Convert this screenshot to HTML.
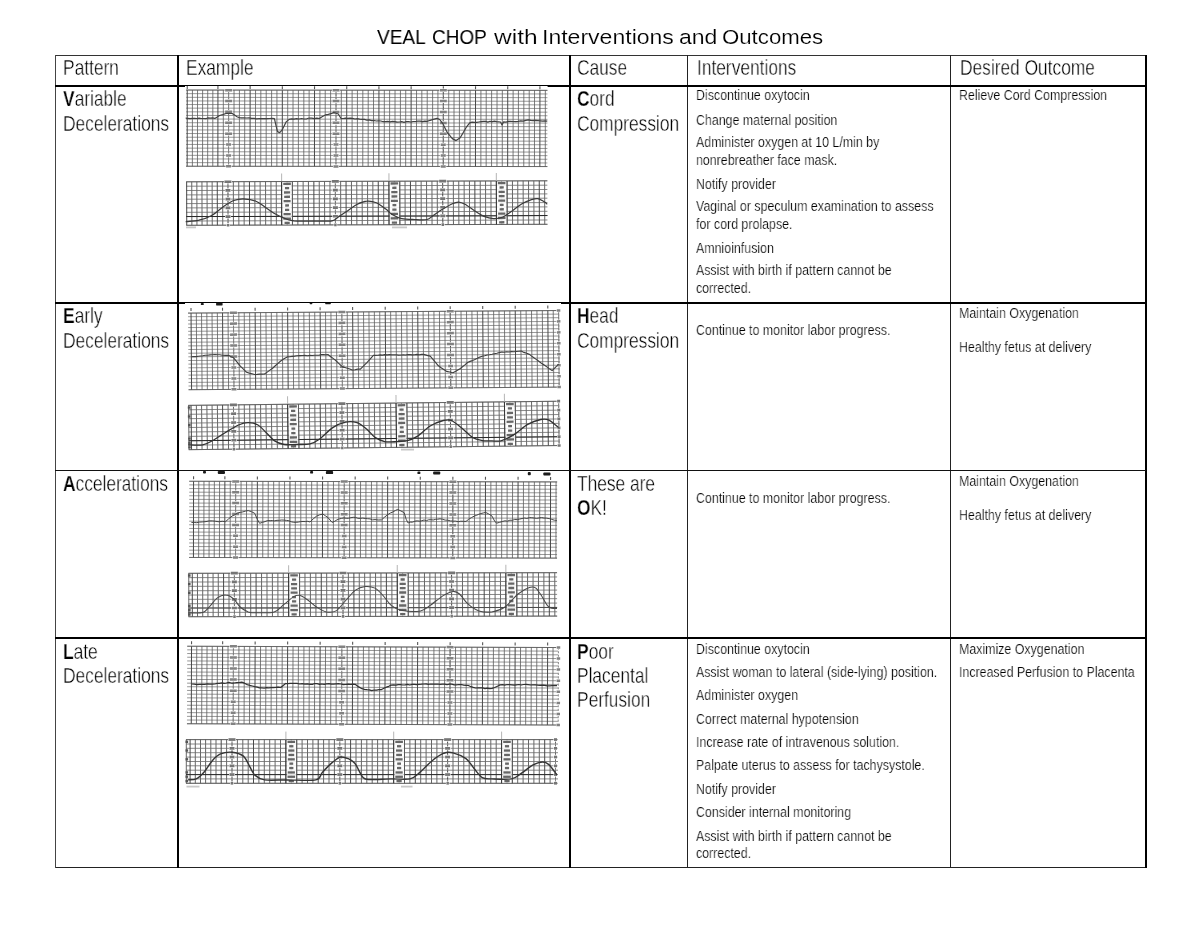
<!DOCTYPE html>
<html lang="en"><head><meta charset="utf-8"><title>VEAL CHOP with Interventions and Outcomes</title>
<style>
html,body{margin:0;padding:0;background:#fff;}
body{width:1200px;height:927px;position:relative;overflow:hidden;font-family:"Liberation Sans",sans-serif;color:#000;}
.ln{position:absolute;}
.t{position:absolute;white-space:nowrap;will-change:transform;transform:scaleX(0.8);transform-origin:0 0;}
.t.b{font-size:21.2px;line-height:21.2px;transform:scaleX(0.818);-webkit-text-stroke:0.4px #fff;}
.t.b b{-webkit-text-stroke:0.25px #fff;}
.t.s{font-size:15.5px;line-height:15.5px;-webkit-text-stroke:0.22px #fff;}
.t b{font-weight:bold;}
.title{position:absolute;left:0;top:27.7px;margin:0;font-weight:normal;font-size:19.7px;line-height:19.7px;white-space:nowrap;}
.title span{position:absolute;top:0;transform-origin:0 0;will-change:transform;}
svg.img{position:absolute;left:0;top:0;}
</style></head><body>
<div class="ln" style="left:54.5px;top:54.5px;width:1092px;height:1.5px;background:#333"></div>
<div class="ln" style="left:54.5px;top:866.8px;width:1092px;height:1.4px;background:#222"></div>
<div class="ln" style="left:54.5px;top:54.5px;width:1.5px;height:813.5px;background:#444"></div>
<div class="ln" style="left:1144.5px;top:55px;width:2px;height:813px;background:#000"></div>
<div class="ln" style="left:177px;top:55px;width:2px;height:813px;background:#000"></div>
<div class="ln" style="left:569px;top:55px;width:2px;height:813px;background:#000"></div>
<div class="ln" style="left:687.1px;top:55px;width:1.4px;height:813px;background:#222"></div>
<div class="ln" style="left:950.1px;top:55px;width:1.4px;height:813px;background:#222"></div>
<div class="ln" style="left:55px;top:85px;width:1091px;height:2px;background:#000"></div>
<div class="ln" style="left:55px;top:302px;width:1091px;height:2px;background:#000"></div>
<div class="ln" style="left:55px;top:469.8px;width:1091px;height:1.4px;background:#111"></div>
<div class="ln" style="left:55px;top:637px;width:1091px;height:2px;background:#000"></div>
<svg class="img" width="1200" height="927" viewBox="0 0 1200 927">
<defs><filter id="bl" x="-2%" y="-5%" width="104%" height="110%"><feGaussianBlur stdDeviation="0.6"/></filter><filter id="bl2" x="-2%" y="-5%" width="104%" height="110%"><feGaussianBlur stdDeviation="0.45"/></filter></defs>
<rect x="185" y="86" width="362.6" height="2.2" fill="#fff"/>
<g filter="url(#bl)">
<g transform="rotate(0.05 367.3 128.3)">
<path d="M192.4 90.2V166.4M197.5 90.2V166.4M202.6 90.2V166.4M207.7 90.2V166.4M212.8 90.2V166.4M223.3 90.2V166.4M228.6 90.2V166.4M234 90.2V166.4M239.4 90.2V166.4M244.7 90.2V166.4M255.5 90.2V166.4M260.8 90.2V166.4M266.2 90.2V166.4M271.6 90.2V166.4M276.9 90.2V166.4M287.7 90.2V166.4M293 90.2V166.4M298.4 90.2V166.4M303.8 90.2V166.4M309.1 90.2V166.4M319.9 90.2V166.4M325.2 90.2V166.4M330.6 90.2V166.4M336 90.2V166.4M341.3 90.2V166.4M352.1 90.2V166.4M357.4 90.2V166.4M362.8 90.2V166.4M368.2 90.2V166.4M373.5 90.2V166.4M384.3 90.2V166.4M389.6 90.2V166.4M395 90.2V166.4M400.4 90.2V166.4M405.7 90.2V166.4M416.5 90.2V166.4M421.8 90.2V166.4M427.2 90.2V166.4M432.6 90.2V166.4M437.9 90.2V166.4M448.7 90.2V166.4M454 90.2V166.4M459.4 90.2V166.4M464.8 90.2V166.4M470.1 90.2V166.4M480.9 90.2V166.4M486.2 90.2V166.4M491.6 90.2V166.4M497 90.2V166.4M502.3 90.2V166.4M513.1 90.2V166.4M518.4 90.2V166.4M523.8 90.2V166.4M529.2 90.2V166.4M534.5 90.2V166.4M545.3 90.2V166.4" stroke="#505050" stroke-width="0.75" fill="none"/>
<path d="M186.1 90.2H547.4M186.1 93.8H547.4M186.1 97.5H547.4M186.1 101.1H547.4M186.1 104.7H547.4M186.1 108.3H547.4M186.1 112H547.4M186.1 115.6H547.4M186.1 119.2H547.4M186.1 122.9H547.4M186.1 126.5H547.4M186.1 130.1H547.4M186.1 133.7H547.4M186.1 137.4H547.4M186.1 141H547.4M186.1 144.6H547.4M186.1 148.3H547.4M186.1 151.9H547.4M186.1 155.5H547.4M186.1 159.1H547.4M186.1 162.8H547.4M186.1 166.4H547.4" stroke="#606060" stroke-width="0.65" fill="none"/>
<path d="M187.2 90.2V166.4M217.9 90.2V166.4M250.1 90.2V166.4M282.3 90.2V166.4M314.5 90.2V166.4M346.7 90.2V166.4M378.9 90.2V166.4M411.1 90.2V166.4M443.3 90.2V166.4M475.5 90.2V166.4M507.7 90.2V166.4M539.9 90.2V166.4" stroke="#484848" stroke-width="1.0" fill="none"/>
<path d="M187.2 86.2V89.2M217.9 86.2V89.2M250.1 86.2V89.2M282.3 86.2V89.2M314.5 86.2V89.2M346.7 86.2V89.2M378.9 86.2V89.2M411.1 86.2V89.2M443.3 86.2V89.2M475.5 86.2V89.2M507.7 86.2V89.2M539.9 86.2V89.2" stroke="#555" stroke-width="1.1" fill="none"/>
<path d="M186.1 90.2H547.4M186.1 166.4H547.4" stroke="#555" stroke-width="0.7" fill="none"/>
<path d="M228.6 90.2V166.4" stroke="#888" stroke-width="1" stroke-dasharray="2.2 1.4" fill="none"/>
<rect x="224.6" y="88.4" width="8" height="3.6" fill="#fff"/>
<rect x="225.1" y="89" width="7" height="2.5" fill="#828282"/>
<rect x="224.6" y="99.3" width="8" height="3.6" fill="#fff"/>
<rect x="225.1" y="99.8" width="7" height="2.5" fill="#828282"/>
<rect x="224.6" y="110.2" width="8" height="3.6" fill="#fff"/>
<rect x="225.1" y="110.7" width="7" height="2.5" fill="#828282"/>
<rect x="224.6" y="121.1" width="8" height="3.6" fill="#fff"/>
<rect x="225.1" y="121.6" width="7" height="2.5" fill="#828282"/>
<rect x="224.6" y="131.9" width="8" height="3.6" fill="#fff"/>
<rect x="225.1" y="132.5" width="7" height="2.5" fill="#828282"/>
<rect x="225.6" y="142.8" width="6" height="3.6" fill="#fff"/>
<rect x="226.1" y="143.4" width="5" height="2.5" fill="#828282"/>
<rect x="225.6" y="153.7" width="6" height="3.6" fill="#fff"/>
<rect x="226.1" y="154.3" width="5" height="2.5" fill="#828282"/>
<rect x="225.6" y="164.6" width="6" height="3.6" fill="#fff"/>
<rect x="226.1" y="165.2" width="5" height="2.5" fill="#828282"/>
<path d="M336 90.2V166.4" stroke="#888" stroke-width="1" stroke-dasharray="2.2 1.4" fill="none"/>
<rect x="332" y="88.4" width="8" height="3.6" fill="#fff"/>
<rect x="332.5" y="89" width="7" height="2.5" fill="#828282"/>
<rect x="332" y="99.3" width="8" height="3.6" fill="#fff"/>
<rect x="332.5" y="99.8" width="7" height="2.5" fill="#828282"/>
<rect x="332" y="110.2" width="8" height="3.6" fill="#fff"/>
<rect x="332.5" y="110.7" width="7" height="2.5" fill="#828282"/>
<rect x="332" y="121.1" width="8" height="3.6" fill="#fff"/>
<rect x="332.5" y="121.6" width="7" height="2.5" fill="#828282"/>
<rect x="332" y="131.9" width="8" height="3.6" fill="#fff"/>
<rect x="332.5" y="132.5" width="7" height="2.5" fill="#828282"/>
<rect x="333" y="142.8" width="6" height="3.6" fill="#fff"/>
<rect x="333.5" y="143.4" width="5" height="2.5" fill="#828282"/>
<rect x="333" y="153.7" width="6" height="3.6" fill="#fff"/>
<rect x="333.5" y="154.3" width="5" height="2.5" fill="#828282"/>
<rect x="333" y="164.6" width="6" height="3.6" fill="#fff"/>
<rect x="333.5" y="165.2" width="5" height="2.5" fill="#828282"/>
<path d="M443.3 90.2V166.4" stroke="#888" stroke-width="1" stroke-dasharray="2.2 1.4" fill="none"/>
<rect x="439.3" y="88.4" width="8" height="3.6" fill="#fff"/>
<rect x="439.8" y="89" width="7" height="2.5" fill="#828282"/>
<rect x="439.3" y="99.3" width="8" height="3.6" fill="#fff"/>
<rect x="439.8" y="99.8" width="7" height="2.5" fill="#828282"/>
<rect x="439.3" y="110.2" width="8" height="3.6" fill="#fff"/>
<rect x="439.8" y="110.7" width="7" height="2.5" fill="#828282"/>
<rect x="439.3" y="121.1" width="8" height="3.6" fill="#fff"/>
<rect x="439.8" y="121.6" width="7" height="2.5" fill="#828282"/>
<rect x="439.3" y="131.9" width="8" height="3.6" fill="#fff"/>
<rect x="439.8" y="132.5" width="7" height="2.5" fill="#828282"/>
<rect x="440.3" y="142.8" width="6" height="3.6" fill="#fff"/>
<rect x="440.8" y="143.4" width="5" height="2.5" fill="#828282"/>
<rect x="440.3" y="153.7" width="6" height="3.6" fill="#fff"/>
<rect x="440.8" y="154.3" width="5" height="2.5" fill="#828282"/>
<rect x="440.3" y="164.6" width="6" height="3.6" fill="#fff"/>
<rect x="440.8" y="165.2" width="5" height="2.5" fill="#828282"/>
</g>
<g transform="rotate(-0.16 367.3 203.1)">
<path d="M191.8 181.3V224.8M196.9 181.3V224.8M202 181.3V224.8M207.1 181.3V224.8M212.2 181.3V224.8M222.7 181.3V224.8M228 181.3V224.8M233.4 181.3V224.8M238.8 181.3V224.8M244.1 181.3V224.8M254.9 181.3V224.8M260.2 181.3V224.8M265.6 181.3V224.8M271 181.3V224.8M276.3 181.3V224.8M287.1 181.3V224.8M292.4 181.3V224.8M297.8 181.3V224.8M303.2 181.3V224.8M308.5 181.3V224.8M319.3 181.3V224.8M324.6 181.3V224.8M330 181.3V224.8M335.4 181.3V224.8M340.7 181.3V224.8M351.5 181.3V224.8M356.8 181.3V224.8M362.2 181.3V224.8M367.6 181.3V224.8M372.9 181.3V224.8M383.7 181.3V224.8M389 181.3V224.8M394.4 181.3V224.8M399.8 181.3V224.8M405.1 181.3V224.8M415.9 181.3V224.8M421.2 181.3V224.8M426.6 181.3V224.8M432 181.3V224.8M437.3 181.3V224.8M448.1 181.3V224.8M453.4 181.3V224.8M458.8 181.3V224.8M464.2 181.3V224.8M469.5 181.3V224.8M480.3 181.3V224.8M485.6 181.3V224.8M491 181.3V224.8M496.4 181.3V224.8M501.7 181.3V224.8M512.5 181.3V224.8M517.8 181.3V224.8M523.2 181.3V224.8M528.6 181.3V224.8M533.9 181.3V224.8M544.7 181.3V224.8" stroke="#5e5e5e" stroke-width="0.95" fill="none"/>
<path d="M186.3 181.3H547.4M186.3 185.7H547.4M186.3 190H547.4M186.3 194.4H547.4M186.3 198.7H547.4M186.3 203.1H547.4M186.3 207.4H547.4M186.3 211.8H547.4M186.3 216.1H547.4M186.3 220.5H547.4M186.3 224.8H547.4" stroke="#6a6a6a" stroke-width="0.8" fill="none"/>
<path d="M186.7 181.3V224.8M217.3 181.3V224.8M249.5 181.3V224.8M281.7 181.3V224.8M313.9 181.3V224.8M346.1 181.3V224.8M378.3 181.3V224.8M410.5 181.3V224.8M442.7 181.3V224.8M474.9 181.3V224.8M507.1 181.3V224.8M539.3 181.3V224.8" stroke="#484848" stroke-width="1.0" fill="none"/>
<path d="M186.3 181.3H547.4M186.3 224.8H547.4" stroke="#555" stroke-width="0.7" fill="none"/>
<path d="M186.3 216.1H547.4" stroke="#2a2a2a" stroke-width="1.0" fill="none"/>
<path d="M228 181.3V224.8" stroke="#888" stroke-width="1" stroke-dasharray="2.2 1.4" fill="none"/>
<rect x="224" y="179.4" width="8" height="3.8" fill="#fff"/>
<rect x="224.5" y="180" width="7" height="2.7" fill="#767676"/>
<rect x="225" y="188.1" width="6" height="3.8" fill="#fff"/>
<rect x="225.5" y="188.7" width="5" height="2.7" fill="#767676"/>
<rect x="225" y="196.8" width="6" height="3.8" fill="#fff"/>
<rect x="225.5" y="197.4" width="5" height="2.7" fill="#767676"/>
<rect x="225" y="205.5" width="6" height="3.8" fill="#fff"/>
<rect x="225.5" y="206.1" width="5" height="2.7" fill="#767676"/>
<rect x="225" y="214.2" width="6" height="3.8" fill="#fff"/>
<rect x="225.5" y="214.8" width="5" height="2.7" fill="#767676"/>
<rect x="226.3" y="222.9" width="3.5" height="3.8" fill="#fff"/>
<rect x="226.8" y="223.5" width="2.5" height="2.7" fill="#767676"/>
<path d="M335.4 181.3V224.8" stroke="#888" stroke-width="1" stroke-dasharray="2.2 1.4" fill="none"/>
<rect x="331.4" y="179.4" width="8" height="3.8" fill="#fff"/>
<rect x="331.9" y="180" width="7" height="2.7" fill="#767676"/>
<rect x="332.4" y="188.1" width="6" height="3.8" fill="#fff"/>
<rect x="332.9" y="188.7" width="5" height="2.7" fill="#767676"/>
<rect x="332.4" y="196.8" width="6" height="3.8" fill="#fff"/>
<rect x="332.9" y="197.4" width="5" height="2.7" fill="#767676"/>
<rect x="332.4" y="205.5" width="6" height="3.8" fill="#fff"/>
<rect x="332.9" y="206.1" width="5" height="2.7" fill="#767676"/>
<rect x="332.4" y="214.2" width="6" height="3.8" fill="#fff"/>
<rect x="332.9" y="214.8" width="5" height="2.7" fill="#767676"/>
<rect x="333.6" y="222.9" width="3.5" height="3.8" fill="#fff"/>
<rect x="334.1" y="223.5" width="2.5" height="2.7" fill="#767676"/>
<path d="M442.7 181.3V224.8" stroke="#888" stroke-width="1" stroke-dasharray="2.2 1.4" fill="none"/>
<rect x="438.7" y="179.4" width="8" height="3.8" fill="#fff"/>
<rect x="439.2" y="180" width="7" height="2.7" fill="#767676"/>
<rect x="439.7" y="188.1" width="6" height="3.8" fill="#fff"/>
<rect x="440.2" y="188.7" width="5" height="2.7" fill="#767676"/>
<rect x="439.7" y="196.8" width="6" height="3.8" fill="#fff"/>
<rect x="440.2" y="197.4" width="5" height="2.7" fill="#767676"/>
<rect x="439.7" y="205.5" width="6" height="3.8" fill="#fff"/>
<rect x="440.2" y="206.1" width="5" height="2.7" fill="#767676"/>
<rect x="439.7" y="214.2" width="6" height="3.8" fill="#fff"/>
<rect x="440.2" y="214.8" width="5" height="2.7" fill="#767676"/>
<rect x="441" y="222.9" width="3.5" height="3.8" fill="#fff"/>
<rect x="441.5" y="223.5" width="2.5" height="2.7" fill="#767676"/>
<rect x="282.3" y="182" width="9.5" height="42.1" fill="#fff" opacity="0.88"/>
<rect x="283.3" y="182.4" width="7.6" height="2.3" fill="#666"/>
<rect x="285" y="186.7" width="4.2" height="2.3" fill="#666"/>
<rect x="284" y="191.1" width="6.2" height="2.3" fill="#666"/>
<rect x="284.2" y="195.4" width="5.8" height="2.3" fill="#666"/>
<rect x="283.6" y="199.8" width="7" height="2.3" fill="#666"/>
<rect x="285.2" y="204.1" width="3.8" height="2.3" fill="#666"/>
<rect x="285" y="208.5" width="4.2" height="2.3" fill="#666"/>
<rect x="283.5" y="212.8" width="7.2" height="2.3" fill="#666"/>
<rect x="283.3" y="217.2" width="7.6" height="2.3" fill="#666"/>
<rect x="284.5" y="221.5" width="5.2" height="2.3" fill="#666"/>
<path d="M281.7 173.3V181.3" stroke="#b5b5b5" stroke-width="1" fill="none"/>
<path d="M281.7 181.3V224.8" stroke="#333" stroke-width="0.95" fill="none"/>
<path d="M292.4 181.3V224.8" stroke="#5a5a5a" stroke-width="0.95" fill="none"/>
<rect x="389.6" y="182" width="9.5" height="42.1" fill="#fff" opacity="0.88"/>
<rect x="390.6" y="182.4" width="7.6" height="2.3" fill="#666"/>
<rect x="392.3" y="186.7" width="4.2" height="2.3" fill="#666"/>
<rect x="391.3" y="191.1" width="6.2" height="2.3" fill="#666"/>
<rect x="391.5" y="195.4" width="5.8" height="2.3" fill="#666"/>
<rect x="390.9" y="199.8" width="7" height="2.3" fill="#666"/>
<rect x="392.5" y="204.1" width="3.8" height="2.3" fill="#666"/>
<rect x="392.3" y="208.5" width="4.2" height="2.3" fill="#666"/>
<rect x="390.8" y="212.8" width="7.2" height="2.3" fill="#666"/>
<rect x="390.6" y="217.2" width="7.6" height="2.3" fill="#666"/>
<rect x="391.8" y="221.5" width="5.2" height="2.3" fill="#666"/>
<path d="M389 173.3V181.3" stroke="#b5b5b5" stroke-width="1" fill="none"/>
<path d="M389 181.3V224.8" stroke="#333" stroke-width="0.95" fill="none"/>
<path d="M399.8 181.3V224.8" stroke="#5a5a5a" stroke-width="0.95" fill="none"/>
<rect x="497" y="182" width="9.5" height="42.1" fill="#fff" opacity="0.88"/>
<rect x="497.9" y="182.4" width="7.6" height="2.3" fill="#666"/>
<rect x="499.6" y="186.7" width="4.2" height="2.3" fill="#666"/>
<rect x="498.6" y="191.1" width="6.2" height="2.3" fill="#666"/>
<rect x="498.8" y="195.4" width="5.8" height="2.3" fill="#666"/>
<rect x="498.2" y="199.8" width="7" height="2.3" fill="#666"/>
<rect x="499.8" y="204.1" width="3.8" height="2.3" fill="#666"/>
<rect x="499.6" y="208.5" width="4.2" height="2.3" fill="#666"/>
<rect x="498.1" y="212.8" width="7.2" height="2.3" fill="#666"/>
<rect x="497.9" y="217.2" width="7.6" height="2.3" fill="#666"/>
<rect x="499.1" y="221.5" width="5.2" height="2.3" fill="#666"/>
<path d="M496.4 173.3V181.3" stroke="#b5b5b5" stroke-width="1" fill="none"/>
<path d="M496.4 181.3V224.8" stroke="#333" stroke-width="0.95" fill="none"/>
<path d="M507.1 181.3V224.8" stroke="#5a5a5a" stroke-width="0.95" fill="none"/>
</g>
<rect x="186" y="226.5" width="10" height="1.8" fill="#9a9a9a" opacity="0.55"/>
<rect x="392" y="226.5" width="15" height="1.8" fill="#9a9a9a" opacity="0.55"/>
</g>
<g filter="url(#bl2)">
<path d="M185.7 118.2L187.9 118.3L190.1 118.7L192.3 118.3L194.6 118.4L196.8 118.5L199 118.2L201.3 118.5L203.5 118.5L205.8 118.7L208 117.9L210.3 118.1L212.6 117.9L214.8 118.4L217.2 117L219.6 115.5L222.7 114.6L225.9 113.5L229.1 113.4L232.2 113.5L234.6 115.1L237 116.7L239.4 117.6L241.7 117.9L244.2 117.9L246.7 118L249.2 117.9L251.7 118.3L254.2 118.4L256.7 118.8L259.2 118.5L261.7 118.7L264.2 118.5L266.8 118.7L269.3 118.5L271.8 118.3L274.4 118.6L275.9 125.2L277.5 131.6L279.7 132.6L282 130.2L286.1 121.9L289.2 119.4L291.6 118.8L294 119.1L296.5 118.7L299.1 119L301.6 118.5L304.1 119L306.7 118.8L309.2 118L311.7 118.1L314.3 118.7L316.8 118.2L319.3 118.5L322.5 116.6L325.7 114.8L328.3 114.4L330.9 113.7L333.6 112.6L336 113.2L338.3 114L340.9 118.3L343.2 118.5L345.5 118.1L347.8 118.3L350.2 118.2L352.6 118.3L355 119L357.3 118.6L359.7 119.2L362.1 119.3L364.5 119.4L366.8 120.1L369.2 119.9L371.6 120.6L374 120.5L376.3 121L378.6 120.9L380.9 121L383.2 121.7L385.5 121.7L387.8 121.3L390.1 121.9L392.4 121.4L394.8 121.6L397.1 122.2L399.4 122L401.7 121.6L404 122.4L406.3 121.6L408.6 121.6L410.9 122L413.2 121.5L415.5 121.5L417.8 121.2L420.1 121.2L422.4 121.6L424.7 121.2L427 121.4L430.2 120.3L433.3 119.4L437.1 118.3L439.7 119.5L442.8 123.6L445.2 128.4L447.6 133L449.9 135.7L452.3 138.6L456.1 140.6L460.2 137.8L463.4 132.2L466.6 126.8L469.7 122.8L472.1 122.1L474.5 122.4L476.7 122.3L478.9 122L481.1 121.7L483.4 121.4L485.6 121.3L487.8 122.1L490 121.3L492.2 121.7L494.4 121.2L496.7 121.6L500.5 122L502 125L503.6 121.9L506 122.1L508.4 121.4L510.8 121.4L513.2 121.5L515.7 121.7L518.2 121.3L520.7 120.8L523.3 121.1L525.8 120.4L528.3 119.9L530.7 120.3L533.1 120.6L535.4 120.4L537.8 120.6L540.2 120.9L542.6 121.2L544.9 120.9L547.3 121.2" stroke="#424242" stroke-width="1.2" fill="none" stroke-linejoin="round"/>
<path d="M185.7 221.7C187.8 221.5 194.8 221.2 199 220.2C203.2 219.1 207.6 217.7 211.7 215.4C215.7 213.1 220.8 208.3 224.3 205.9C227.9 203.5 230.8 201.6 233.8 200.5C236.9 199.4 239.8 198.8 243.3 198.9C246.9 199 252.5 199.8 256 201.2C259.5 202.5 262.5 205.5 265.5 207.5C268.5 209.5 272.5 212.3 275 213.8C277.5 215.3 279.3 216.1 281.3 217C283.4 217.9 285.6 218.9 287.7 219.5C289.7 220.1 289.9 220.5 294 220.8C298 221 306.9 221.1 313 221.1C319.1 221.1 327.9 221.5 332 220.8C336 220.1 335.8 218.6 338.3 217C340.9 215.4 344.8 212.7 347.8 210.7C350.9 208.6 354.3 205.8 357.3 204.3C360.4 202.8 363.8 201.4 366.8 201.2C369.9 200.9 373.3 201.5 376.3 202.7C379.4 204 383.3 207.2 385.8 209.1C388.4 211 389.6 212.9 392.2 214.5C394.7 216 398.1 217.8 401.7 218.6C405.2 219.4 410.3 219.4 414.3 219.5C418.4 219.7 424 220.2 427 219.5C430 218.9 430.8 217.1 433.3 215.4C435.9 213.7 439.8 211 442.8 209.1C445.9 207.2 449.8 204.8 452.3 203.7C454.9 202.6 456.6 202 458.7 202.1C460.7 202.2 462.5 203 465 204.3C467.5 205.7 471.5 208.7 474.5 210.7C477.5 212.6 480.9 215.1 484 216.4C487 217.6 490.4 218.5 493.5 218.6C496.5 218.7 499.9 218.3 503 217C506 215.7 509.4 212.8 512.5 210.7C515.5 208.5 518.9 205.5 522 203.7C525 201.9 529 200.4 531.5 199.6C534 198.8 535.8 198.3 537.8 198.6C539.8 199 542.6 200.9 544.2 201.8C545.7 202.7 546.8 203.9 547.3 204.3" stroke="#3a3a3a" stroke-width="1.2" fill="none" stroke-linejoin="round"/>
</g>
<rect x="185" y="303" width="376" height="2.2" fill="#fff"/>
<g filter="url(#bl)">
<g transform="rotate(-0.4 375.3 350.1)">
<path d="M196.6 311.8V388.4M201.8 311.8V388.4M207.1 311.8V388.4M212.3 311.8V388.4M217.6 311.8V388.4M228.3 311.8V388.4M233.7 311.8V388.4M239.1 311.8V388.4M244.5 311.8V388.4M249.9 311.8V388.4M260.8 311.8V388.4M266.2 311.8V388.4M271.6 311.8V388.4M277.1 311.8V388.4M282.5 311.8V388.4M293.3 311.8V388.4M298.7 311.8V388.4M304.1 311.8V388.4M309.6 311.8V388.4M315 311.8V388.4M325.8 311.8V388.4M331.2 311.8V388.4M336.7 311.8V388.4M342.1 311.8V388.4M347.5 311.8V388.4M358.4 311.8V388.4M363.8 311.8V388.4M369.2 311.8V388.4M374.6 311.8V388.4M380 311.8V388.4M390.9 311.8V388.4M396.3 311.8V388.4M401.7 311.8V388.4M407.1 311.8V388.4M412.6 311.8V388.4M423.4 311.8V388.4M428.8 311.8V388.4M434.2 311.8V388.4M439.7 311.8V388.4M445.1 311.8V388.4M455.9 311.8V388.4M461.3 311.8V388.4M466.8 311.8V388.4M472.2 311.8V388.4M477.6 311.8V388.4M488.4 311.8V388.4M493.9 311.8V388.4M499.3 311.8V388.4M504.7 311.8V388.4M510.1 311.8V388.4M521 311.8V388.4M526.4 311.8V388.4M531.8 311.8V388.4M537.2 311.8V388.4M542.6 311.8V388.4M553.5 311.8V388.4M558.9 311.8V388.4" stroke="#505050" stroke-width="0.75" fill="none"/>
<path d="M188.3 311.8H559.3M188.3 315.4H559.3M188.3 319H559.3M188.3 322.7H559.3M188.3 326.3H559.3M188.3 330H559.3M188.3 333.6H559.3M188.3 337.3H559.3M188.3 340.9H559.3M188.3 344.6H559.3M188.3 348.2H559.3M188.3 351.9H559.3M188.3 355.5H559.3M188.3 359.2H559.3M188.3 362.8H559.3M188.3 366.5H559.3M188.3 370.1H559.3M188.3 373.8H559.3M188.3 377.4H559.3M188.3 381.1H559.3M188.3 384.7H559.3M188.3 388.4H559.3" stroke="#606060" stroke-width="0.65" fill="none"/>
<path d="M191.3 311.8V388.4M222.8 311.8V388.4M255.4 311.8V388.4M287.9 311.8V388.4M320.4 311.8V388.4M352.9 311.8V388.4M385.5 311.8V388.4M418 311.8V388.4M450.5 311.8V388.4M483 311.8V388.4M515.5 311.8V388.4M548.1 311.8V388.4" stroke="#484848" stroke-width="1.0" fill="none"/>
<path d="M191.3 306.8V309.8M222.8 306.8V309.8M255.4 306.8V309.8M287.9 306.8V309.8M320.4 306.8V309.8M352.9 306.8V309.8M385.5 306.8V309.8M418 306.8V309.8M450.5 306.8V309.8M483 306.8V309.8M515.5 306.8V309.8M548.1 306.8V309.8" stroke="#555" stroke-width="1.1" fill="none"/>
<path d="M188.3 311.8H559.3M188.3 388.4H559.3" stroke="#555" stroke-width="0.7" fill="none"/>
<path d="M233.7 311.8V388.4" stroke="#888" stroke-width="1" stroke-dasharray="2.2 1.4" fill="none"/>
<rect x="229.7" y="309.9" width="8" height="3.6" fill="#fff"/>
<rect x="230.2" y="310.5" width="7" height="2.5" fill="#828282"/>
<rect x="229.7" y="320.9" width="8" height="3.6" fill="#fff"/>
<rect x="230.2" y="321.4" width="7" height="2.5" fill="#828282"/>
<rect x="229.7" y="331.8" width="8" height="3.6" fill="#fff"/>
<rect x="230.2" y="332.4" width="7" height="2.5" fill="#828282"/>
<rect x="229.7" y="342.8" width="8" height="3.6" fill="#fff"/>
<rect x="230.2" y="343.3" width="7" height="2.5" fill="#828282"/>
<rect x="229.7" y="353.7" width="8" height="3.6" fill="#fff"/>
<rect x="230.2" y="354.3" width="7" height="2.5" fill="#828282"/>
<rect x="230.7" y="364.7" width="6" height="3.6" fill="#fff"/>
<rect x="231.2" y="365.2" width="5" height="2.5" fill="#828282"/>
<rect x="230.7" y="375.6" width="6" height="3.6" fill="#fff"/>
<rect x="231.2" y="376.2" width="5" height="2.5" fill="#828282"/>
<rect x="230.7" y="386.6" width="6" height="3.6" fill="#fff"/>
<rect x="231.2" y="387.1" width="5" height="2.5" fill="#828282"/>
<path d="M342.1 311.8V388.4" stroke="#888" stroke-width="1" stroke-dasharray="2.2 1.4" fill="none"/>
<rect x="338.1" y="309.9" width="8" height="3.6" fill="#fff"/>
<rect x="338.6" y="310.5" width="7" height="2.5" fill="#828282"/>
<rect x="338.1" y="320.9" width="8" height="3.6" fill="#fff"/>
<rect x="338.6" y="321.4" width="7" height="2.5" fill="#828282"/>
<rect x="338.1" y="331.8" width="8" height="3.6" fill="#fff"/>
<rect x="338.6" y="332.4" width="7" height="2.5" fill="#828282"/>
<rect x="338.1" y="342.8" width="8" height="3.6" fill="#fff"/>
<rect x="338.6" y="343.3" width="7" height="2.5" fill="#828282"/>
<rect x="338.1" y="353.7" width="8" height="3.6" fill="#fff"/>
<rect x="338.6" y="354.3" width="7" height="2.5" fill="#828282"/>
<rect x="339.1" y="364.7" width="6" height="3.6" fill="#fff"/>
<rect x="339.6" y="365.2" width="5" height="2.5" fill="#828282"/>
<rect x="339.1" y="375.6" width="6" height="3.6" fill="#fff"/>
<rect x="339.6" y="376.2" width="5" height="2.5" fill="#828282"/>
<rect x="339.1" y="386.6" width="6" height="3.6" fill="#fff"/>
<rect x="339.6" y="387.1" width="5" height="2.5" fill="#828282"/>
<path d="M450.5 311.8V388.4" stroke="#888" stroke-width="1" stroke-dasharray="2.2 1.4" fill="none"/>
<rect x="446.5" y="309.9" width="8" height="3.6" fill="#fff"/>
<rect x="447" y="310.5" width="7" height="2.5" fill="#828282"/>
<rect x="446.5" y="320.9" width="8" height="3.6" fill="#fff"/>
<rect x="447" y="321.4" width="7" height="2.5" fill="#828282"/>
<rect x="446.5" y="331.8" width="8" height="3.6" fill="#fff"/>
<rect x="447" y="332.4" width="7" height="2.5" fill="#828282"/>
<rect x="446.5" y="342.8" width="8" height="3.6" fill="#fff"/>
<rect x="447" y="343.3" width="7" height="2.5" fill="#828282"/>
<rect x="446.5" y="353.7" width="8" height="3.6" fill="#fff"/>
<rect x="447" y="354.3" width="7" height="2.5" fill="#828282"/>
<rect x="447.5" y="364.7" width="6" height="3.6" fill="#fff"/>
<rect x="448" y="365.2" width="5" height="2.5" fill="#828282"/>
<rect x="447.5" y="375.6" width="6" height="3.6" fill="#fff"/>
<rect x="448" y="376.2" width="5" height="2.5" fill="#828282"/>
<rect x="447.5" y="386.6" width="6" height="3.6" fill="#fff"/>
<rect x="448" y="387.1" width="5" height="2.5" fill="#828282"/>
<path d="M558.9 311.8V388.4" stroke="#888" stroke-width="1" stroke-dasharray="2.2 1.4" fill="none"/>
<rect x="556.6" y="309.9" width="4.5" height="3.6" fill="#fff"/>
<rect x="557.1" y="310.5" width="3.5" height="2.5" fill="#828282"/>
<rect x="556.6" y="320.9" width="4.5" height="3.6" fill="#fff"/>
<rect x="557.1" y="321.4" width="3.5" height="2.5" fill="#828282"/>
<rect x="556.6" y="331.8" width="4.5" height="3.6" fill="#fff"/>
<rect x="557.1" y="332.4" width="3.5" height="2.5" fill="#828282"/>
<rect x="556.6" y="342.8" width="4.5" height="3.6" fill="#fff"/>
<rect x="557.1" y="343.3" width="3.5" height="2.5" fill="#828282"/>
<rect x="556.6" y="353.7" width="4.5" height="3.6" fill="#fff"/>
<rect x="557.1" y="354.3" width="3.5" height="2.5" fill="#828282"/>
<rect x="556.6" y="364.7" width="4.5" height="3.6" fill="#fff"/>
<rect x="557.1" y="365.2" width="3.5" height="2.5" fill="#828282"/>
<rect x="556.6" y="375.6" width="4.5" height="3.6" fill="#fff"/>
<rect x="557.1" y="376.2" width="3.5" height="2.5" fill="#828282"/>
<rect x="556.6" y="386.6" width="4.5" height="3.6" fill="#fff"/>
<rect x="557.1" y="387.1" width="3.5" height="2.5" fill="#828282"/>
</g>
<g transform="rotate(-0.64 375.3 425.4)">
<path d="M196.6 403.3V447.6M201.8 403.3V447.6M207.1 403.3V447.6M212.3 403.3V447.6M217.6 403.3V447.6M188.8 403.3V447.6M228.3 403.3V447.6M233.7 403.3V447.6M239.1 403.3V447.6M244.5 403.3V447.6M249.9 403.3V447.6M260.8 403.3V447.6M266.2 403.3V447.6M271.6 403.3V447.6M277.1 403.3V447.6M282.5 403.3V447.6M293.3 403.3V447.6M298.7 403.3V447.6M304.1 403.3V447.6M309.6 403.3V447.6M315 403.3V447.6M325.8 403.3V447.6M331.2 403.3V447.6M336.7 403.3V447.6M342.1 403.3V447.6M347.5 403.3V447.6M358.4 403.3V447.6M363.8 403.3V447.6M369.2 403.3V447.6M374.6 403.3V447.6M380 403.3V447.6M390.9 403.3V447.6M396.3 403.3V447.6M401.7 403.3V447.6M407.1 403.3V447.6M412.6 403.3V447.6M423.4 403.3V447.6M428.8 403.3V447.6M434.2 403.3V447.6M439.7 403.3V447.6M445.1 403.3V447.6M455.9 403.3V447.6M461.3 403.3V447.6M466.8 403.3V447.6M472.2 403.3V447.6M477.6 403.3V447.6M488.4 403.3V447.6M493.9 403.3V447.6M499.3 403.3V447.6M504.7 403.3V447.6M510.1 403.3V447.6M521 403.3V447.6M526.4 403.3V447.6M531.8 403.3V447.6M537.2 403.3V447.6M542.6 403.3V447.6M553.5 403.3V447.6M558.9 403.3V447.6" stroke="#5e5e5e" stroke-width="0.95" fill="none"/>
<path d="M188.5 403.3H559.3M188.5 407.7H559.3M188.5 412.2H559.3M188.5 416.6H559.3M188.5 421H559.3M188.5 425.4H559.3M188.5 429.9H559.3M188.5 434.3H559.3M188.5 438.7H559.3M188.5 443.1H559.3M188.5 447.6H559.3" stroke="#6a6a6a" stroke-width="0.8" fill="none"/>
<path d="M191.3 403.3V447.6M222.8 403.3V447.6M255.4 403.3V447.6M287.9 403.3V447.6M320.4 403.3V447.6M352.9 403.3V447.6M385.5 403.3V447.6M418 403.3V447.6M450.5 403.3V447.6M483 403.3V447.6M515.5 403.3V447.6M548.1 403.3V447.6" stroke="#484848" stroke-width="1.0" fill="none"/>
<path d="M188.5 403.3H559.3M188.5 447.6H559.3" stroke="#555" stroke-width="0.7" fill="none"/>
<path d="M188.5 438.7H559.3" stroke="#2a2a2a" stroke-width="1.0" fill="none"/>
<rect x="188" y="404.3" width="2.6" height="2.4" fill="#555"/>
<rect x="188" y="413.2" width="2.6" height="2.4" fill="#555"/>
<rect x="188" y="422" width="2.6" height="2.4" fill="#555"/>
<rect x="188" y="435.3" width="2.6" height="2.4" fill="#555"/>
<rect x="188" y="439.7" width="2.6" height="2.4" fill="#555"/>
<rect x="188" y="444.1" width="2.6" height="2.4" fill="#555"/>
<path d="M233.7 403.3V447.6" stroke="#888" stroke-width="1" stroke-dasharray="2.2 1.4" fill="none"/>
<rect x="229.7" y="401.4" width="8" height="3.8" fill="#fff"/>
<rect x="230.2" y="401.9" width="7" height="2.7" fill="#767676"/>
<rect x="230.7" y="410.3" width="6" height="3.8" fill="#fff"/>
<rect x="231.2" y="410.8" width="5" height="2.7" fill="#767676"/>
<rect x="230.7" y="419.1" width="6" height="3.8" fill="#fff"/>
<rect x="231.2" y="419.6" width="5" height="2.7" fill="#767676"/>
<rect x="230.7" y="428" width="6" height="3.8" fill="#fff"/>
<rect x="231.2" y="428.5" width="5" height="2.7" fill="#767676"/>
<rect x="230.7" y="436.8" width="6" height="3.8" fill="#fff"/>
<rect x="231.2" y="437.3" width="5" height="2.7" fill="#767676"/>
<rect x="231.9" y="445.7" width="3.5" height="3.8" fill="#fff"/>
<rect x="232.4" y="446.2" width="2.5" height="2.7" fill="#767676"/>
<path d="M342.1 403.3V447.6" stroke="#888" stroke-width="1" stroke-dasharray="2.2 1.4" fill="none"/>
<rect x="338.1" y="401.4" width="8" height="3.8" fill="#fff"/>
<rect x="338.6" y="401.9" width="7" height="2.7" fill="#767676"/>
<rect x="339.1" y="410.3" width="6" height="3.8" fill="#fff"/>
<rect x="339.6" y="410.8" width="5" height="2.7" fill="#767676"/>
<rect x="339.1" y="419.1" width="6" height="3.8" fill="#fff"/>
<rect x="339.6" y="419.6" width="5" height="2.7" fill="#767676"/>
<rect x="339.1" y="428" width="6" height="3.8" fill="#fff"/>
<rect x="339.6" y="428.5" width="5" height="2.7" fill="#767676"/>
<rect x="339.1" y="436.8" width="6" height="3.8" fill="#fff"/>
<rect x="339.6" y="437.3" width="5" height="2.7" fill="#767676"/>
<rect x="340.3" y="445.7" width="3.5" height="3.8" fill="#fff"/>
<rect x="340.8" y="446.2" width="2.5" height="2.7" fill="#767676"/>
<path d="M450.5 403.3V447.6" stroke="#888" stroke-width="1" stroke-dasharray="2.2 1.4" fill="none"/>
<rect x="446.5" y="401.4" width="8" height="3.8" fill="#fff"/>
<rect x="447" y="401.9" width="7" height="2.7" fill="#767676"/>
<rect x="447.5" y="410.3" width="6" height="3.8" fill="#fff"/>
<rect x="448" y="410.8" width="5" height="2.7" fill="#767676"/>
<rect x="447.5" y="419.1" width="6" height="3.8" fill="#fff"/>
<rect x="448" y="419.6" width="5" height="2.7" fill="#767676"/>
<rect x="447.5" y="428" width="6" height="3.8" fill="#fff"/>
<rect x="448" y="428.5" width="5" height="2.7" fill="#767676"/>
<rect x="447.5" y="436.8" width="6" height="3.8" fill="#fff"/>
<rect x="448" y="437.3" width="5" height="2.7" fill="#767676"/>
<rect x="448.7" y="445.7" width="3.5" height="3.8" fill="#fff"/>
<rect x="449.2" y="446.2" width="2.5" height="2.7" fill="#767676"/>
<path d="M558.9 403.3V447.6" stroke="#888" stroke-width="1" stroke-dasharray="2.2 1.4" fill="none"/>
<rect x="556.9" y="401.4" width="4" height="3.8" fill="#fff"/>
<rect x="557.4" y="401.9" width="3" height="2.7" fill="#767676"/>
<rect x="556.9" y="410.3" width="4" height="3.8" fill="#fff"/>
<rect x="557.4" y="410.8" width="3" height="2.7" fill="#767676"/>
<rect x="556.9" y="419.1" width="4" height="3.8" fill="#fff"/>
<rect x="557.4" y="419.6" width="3" height="2.7" fill="#767676"/>
<rect x="556.9" y="428" width="4" height="3.8" fill="#fff"/>
<rect x="557.4" y="428.5" width="3" height="2.7" fill="#767676"/>
<rect x="556.9" y="436.8" width="4" height="3.8" fill="#fff"/>
<rect x="557.4" y="437.3" width="3" height="2.7" fill="#767676"/>
<rect x="556.9" y="445.7" width="4" height="3.8" fill="#fff"/>
<rect x="557.4" y="446.2" width="3" height="2.7" fill="#767676"/>
<rect x="288.5" y="404" width="9.6" height="42.9" fill="#fff" opacity="0.88"/>
<rect x="289.5" y="404.4" width="7.6" height="2.3" fill="#666"/>
<rect x="291.2" y="408.8" width="4.2" height="2.3" fill="#666"/>
<rect x="290.2" y="413.3" width="6.2" height="2.3" fill="#666"/>
<rect x="290.4" y="417.7" width="5.8" height="2.3" fill="#666"/>
<rect x="289.8" y="422.1" width="7" height="2.3" fill="#666"/>
<rect x="291.4" y="426.5" width="3.8" height="2.3" fill="#666"/>
<rect x="291.2" y="431" width="4.2" height="2.3" fill="#666"/>
<rect x="289.7" y="435.4" width="7.2" height="2.3" fill="#666"/>
<rect x="289.5" y="439.8" width="7.6" height="2.3" fill="#666"/>
<rect x="290.7" y="444.2" width="5.2" height="2.3" fill="#666"/>
<path d="M287.9 395.3V403.3" stroke="#b5b5b5" stroke-width="1" fill="none"/>
<path d="M287.9 403.3V447.6" stroke="#333" stroke-width="0.95" fill="none"/>
<path d="M298.7 403.3V447.6" stroke="#5a5a5a" stroke-width="0.95" fill="none"/>
<rect x="396.9" y="404" width="9.6" height="42.9" fill="#fff" opacity="0.88"/>
<rect x="397.9" y="404.4" width="7.6" height="2.3" fill="#666"/>
<rect x="399.6" y="408.8" width="4.2" height="2.3" fill="#666"/>
<rect x="398.6" y="413.3" width="6.2" height="2.3" fill="#666"/>
<rect x="398.8" y="417.7" width="5.8" height="2.3" fill="#666"/>
<rect x="398.2" y="422.1" width="7" height="2.3" fill="#666"/>
<rect x="399.8" y="426.5" width="3.8" height="2.3" fill="#666"/>
<rect x="399.6" y="431" width="4.2" height="2.3" fill="#666"/>
<rect x="398.1" y="435.4" width="7.2" height="2.3" fill="#666"/>
<rect x="397.9" y="439.8" width="7.6" height="2.3" fill="#666"/>
<rect x="399.1" y="444.2" width="5.2" height="2.3" fill="#666"/>
<path d="M396.3 395.3V403.3" stroke="#b5b5b5" stroke-width="1" fill="none"/>
<path d="M396.3 403.3V447.6" stroke="#333" stroke-width="0.95" fill="none"/>
<path d="M407.1 403.3V447.6" stroke="#5a5a5a" stroke-width="0.95" fill="none"/>
<rect x="505.3" y="404" width="9.6" height="42.9" fill="#fff" opacity="0.88"/>
<rect x="506.3" y="404.4" width="7.6" height="2.3" fill="#666"/>
<rect x="508" y="408.8" width="4.2" height="2.3" fill="#666"/>
<rect x="507" y="413.3" width="6.2" height="2.3" fill="#666"/>
<rect x="507.2" y="417.7" width="5.8" height="2.3" fill="#666"/>
<rect x="506.6" y="422.1" width="7" height="2.3" fill="#666"/>
<rect x="508.2" y="426.5" width="3.8" height="2.3" fill="#666"/>
<rect x="508" y="431" width="4.2" height="2.3" fill="#666"/>
<rect x="506.5" y="435.4" width="7.2" height="2.3" fill="#666"/>
<rect x="506.3" y="439.8" width="7.6" height="2.3" fill="#666"/>
<rect x="507.5" y="444.2" width="5.2" height="2.3" fill="#666"/>
<path d="M504.7 395.3V403.3" stroke="#b5b5b5" stroke-width="1" fill="none"/>
<path d="M504.7 403.3V447.6" stroke="#333" stroke-width="0.95" fill="none"/>
<path d="M515.5 403.3V447.6" stroke="#5a5a5a" stroke-width="0.95" fill="none"/>
</g>
<rect x="401" y="448.7" width="13" height="1.8" fill="#9a9a9a" opacity="0.55"/>
<rect x="200.8" y="302.9" width="3" height="2.2" rx="0.9" fill="#1c1c1c"/>
<rect x="216.1" y="302.8" width="6.5" height="2.8" rx="0.9" fill="#1c1c1c"/>
<rect x="309.5" y="303" width="3" height="1.2" rx="0.9" fill="#1c1c1c"/>
<rect x="325" y="303" width="6" height="1.2" rx="0.9" fill="#1c1c1c"/>
</g>
<g filter="url(#bl2)">
<path d="M191.4 356.7L193.6 356.6L195.9 356.6L198.2 356.2L200.5 356L202.7 355.8L205.2 355.3L207.6 355.2L210.1 354.9L212.5 354.7L214.9 354.5L217.4 354.7L219.8 354.8L222.2 355.3L225.5 355.4L228.7 355.3L231.2 356.7L233.6 357.8L236.9 361.8L240.1 365.9L243.4 369.1L246.6 372.3L249.3 373.1L252 373.7L254.7 374.5L257.2 374.4L259.6 374.1L262.1 374.1L264.5 374L267.2 372.1L269.9 370.1L272.6 368.2L275.3 365.8L278 363.4L280.7 361L284 358.8L287.2 356.9L289.7 356.8L292.1 356.4L294.6 356.1L297 355.7L299.6 355.6L302.2 355.5L304.8 355.4L307.4 355.7L310 355.4L312.2 355.5L314.5 355.2L316.7 355.3L318.9 355.2L321.2 354.6L323.4 354.6L325.6 354.8L327.9 354.5L331.1 357L334.4 359.4L337.1 361.8L339.8 364.4L342.5 366.9L344.9 367.5L347.4 368.2L349.8 369L352.2 370L355 369.7L357.7 369.1L360.4 369.1L363.6 365.8L366.9 362.6L370.1 359.1L373.4 355.4L375.6 355.4L377.9 355.2L380.2 354.9L382.5 355.1L384.7 354.6L387.1 354.9L389.4 354.6L391.7 354.8L394 354.7L396.4 354.7L398.7 355.1L401 355L403.3 354.7L405.5 355L407.8 354.6L410.1 354.6L412.4 354.9L414.6 354.7L416.9 354.4L419.2 354.8L421.5 354.4L423.7 354.4L427 355.4L430.2 356.1L433 359.3L435.7 362.6L438.4 365.8L441.1 367.7L443.8 369.5L446.5 371.4L449.7 372L453 372.7L456.2 371L459.5 369.1L462.2 367L464.9 364.9L467.6 362.5L470.1 361.4L472.5 360.6L474.9 359.5L477.4 358.2L479.8 357.1L482.2 356.2L484.7 355.8L487.1 355L489.6 354.8L492 354.3L494.4 353.7L496.9 353.2L499.3 352.6L501.7 352L504.2 352.3L506.6 351.8L509.1 352L511.5 351.6L513.9 351.8L516.4 351.5L518.8 351.3L521.2 351.1L523.9 352.4L526.7 353.3L529.4 354.4L531.6 356.1L533.9 357.8L536.2 359.4L538.5 361L540.7 362.7L543 364.2L545.3 365.8L547.6 367.4L549.8 369.1L552.1 370.6L555.4 367.4L558.6 364.2" stroke="#404040" stroke-width="1.15" fill="none" stroke-linejoin="round"/>
<path d="M188.1 444.8C190.5 444.8 198.8 445.5 202.7 444.8C206.6 444.2 208.9 442.6 212.5 440.6C216.1 438.6 221.3 435 225.5 432.5C229.7 430 234.9 426.6 238.5 425C242.1 423.5 245.1 422.7 248.2 422.7C251.4 422.7 255.1 423.5 258 425C260.9 426.6 263.5 430 266.1 432.5C268.7 435 271.4 438.7 274.2 440.6C277.1 442.5 280.4 443.9 284 444.5C287.6 445.1 292.8 444.6 297 444.5C301.2 444.4 306.4 444.8 310 443.9C313.6 443 316.1 441.6 319.7 439C323.4 436.4 328.6 430.3 332.7 427.6C336.9 424.9 341.8 422.9 345.7 422.1C349.6 421.3 353.7 421.6 357.1 422.7C360.5 423.9 364 426.9 366.9 429.2C369.7 431.6 372.1 435.4 375 437.4C377.9 439.3 381.4 440.9 384.7 441.6C388.1 442.3 392.5 441.8 396.1 441.6C399.8 441.4 404.1 441.5 407.5 440.6C410.9 439.8 413.6 438.7 417.2 436.4C420.9 434.1 426.1 428.5 430.2 426C434.4 423.4 439.9 421.4 443.2 420.5C446.6 419.6 448.5 419.3 451.4 420.5C454.2 421.6 457.7 424.9 461.1 427.6C464.5 430.3 469.1 435.3 472.5 437.4C475.9 439.5 479.1 440 482.2 440.6C485.4 441.2 488.9 440.9 492 440.9C495.1 440.9 498.1 441.7 501.7 440.6C505.4 439.5 510.6 436.7 514.7 434.1C518.9 431.5 523.6 426.7 527.7 424.4C531.9 422 537.4 420.2 540.7 419.5C544.1 418.8 546 418.8 548.9 420.1C551.7 421.4 557.1 426.4 558.6 427.6" stroke="#333" stroke-width="1.3" fill="none" stroke-linejoin="round"/>
</g>
<g filter="url(#bl)">
<g transform="rotate(0.1 375.3 519.7)">
<path d="M198.7 481.6V557.8M203.9 481.6V557.8M209.1 481.6V557.8M214.3 481.6V557.8M219.5 481.6V557.8M230.2 481.6V557.8M235.6 481.6V557.8M241 481.6V557.8M246.5 481.6V557.8M251.9 481.6V557.8M262.8 481.6V557.8M268.2 481.6V557.8M273.6 481.6V557.8M279.1 481.6V557.8M284.5 481.6V557.8M295.3 481.6V557.8M300.8 481.6V557.8M306.2 481.6V557.8M311.6 481.6V557.8M317.1 481.6V557.8M327.9 481.6V557.8M333.4 481.6V557.8M338.8 481.6V557.8M344.2 481.6V557.8M349.6 481.6V557.8M360.5 481.6V557.8M365.9 481.6V557.8M371.4 481.6V557.8M376.8 481.6V557.8M382.2 481.6V557.8M393.1 481.6V557.8M398.5 481.6V557.8M403.9 481.6V557.8M409.4 481.6V557.8M414.8 481.6V557.8M425.7 481.6V557.8M431.1 481.6V557.8M436.5 481.6V557.8M441.9 481.6V557.8M447.4 481.6V557.8M458.2 481.6V557.8M463.7 481.6V557.8M469.1 481.6V557.8M474.5 481.6V557.8M480 481.6V557.8M490.8 481.6V557.8M496.2 481.6V557.8M501.7 481.6V557.8M507.1 481.6V557.8M512.5 481.6V557.8M523.4 481.6V557.8M528.8 481.6V557.8M534.3 481.6V557.8M539.7 481.6V557.8M545.1 481.6V557.8M556 481.6V557.8" stroke="#505050" stroke-width="0.75" fill="none"/>
<path d="M189.2 481.6H557.1M189.2 485.2H557.1M189.2 488.9H557.1M189.2 492.5H557.1M189.2 496.1H557.1M189.2 499.7H557.1M189.2 503.4H557.1M189.2 507H557.1M189.2 510.6H557.1M189.2 514.3H557.1M189.2 517.9H557.1M189.2 521.5H557.1M189.2 525.1H557.1M189.2 528.8H557.1M189.2 532.4H557.1M189.2 536H557.1M189.2 539.7H557.1M189.2 543.3H557.1M189.2 546.9H557.1M189.2 550.5H557.1M189.2 554.2H557.1M189.2 557.8H557.1" stroke="#606060" stroke-width="0.65" fill="none"/>
<path d="M193.5 481.6V557.8M224.8 481.6V557.8M257.3 481.6V557.8M289.9 481.6V557.8M322.5 481.6V557.8M355.1 481.6V557.8M387.6 481.6V557.8M420.2 481.6V557.8M452.8 481.6V557.8M485.4 481.6V557.8M518 481.6V557.8M550.5 481.6V557.8" stroke="#484848" stroke-width="1.0" fill="none"/>
<path d="M193.5 476.6V479.6M224.8 476.6V479.6M257.3 476.6V479.6M289.9 476.6V479.6M322.5 476.6V479.6M355.1 476.6V479.6M387.6 476.6V479.6M420.2 476.6V479.6M452.8 476.6V479.6M485.4 476.6V479.6M518 476.6V479.6M550.5 476.6V479.6" stroke="#555" stroke-width="1.1" fill="none"/>
<path d="M189.2 481.6H557.1M189.2 557.8H557.1" stroke="#555" stroke-width="0.7" fill="none"/>
<path d="M235.6 481.6V557.8" stroke="#888" stroke-width="1" stroke-dasharray="2.2 1.4" fill="none"/>
<rect x="231.6" y="479.8" width="8" height="3.6" fill="#fff"/>
<rect x="232.1" y="480.4" width="7" height="2.5" fill="#828282"/>
<rect x="231.6" y="490.7" width="8" height="3.6" fill="#fff"/>
<rect x="232.1" y="491.2" width="7" height="2.5" fill="#828282"/>
<rect x="231.6" y="501.6" width="8" height="3.6" fill="#fff"/>
<rect x="232.1" y="502.1" width="7" height="2.5" fill="#828282"/>
<rect x="231.6" y="512.5" width="8" height="3.6" fill="#fff"/>
<rect x="232.1" y="513" width="7" height="2.5" fill="#828282"/>
<rect x="231.6" y="523.3" width="8" height="3.6" fill="#fff"/>
<rect x="232.1" y="523.9" width="7" height="2.5" fill="#828282"/>
<rect x="232.6" y="534.2" width="6" height="3.6" fill="#fff"/>
<rect x="233.1" y="534.8" width="5" height="2.5" fill="#828282"/>
<rect x="232.6" y="545.1" width="6" height="3.6" fill="#fff"/>
<rect x="233.1" y="545.7" width="5" height="2.5" fill="#828282"/>
<rect x="232.6" y="556" width="6" height="3.6" fill="#fff"/>
<rect x="233.1" y="556.5" width="5" height="2.5" fill="#828282"/>
<path d="M344.2 481.6V557.8" stroke="#888" stroke-width="1" stroke-dasharray="2.2 1.4" fill="none"/>
<rect x="340.2" y="479.8" width="8" height="3.6" fill="#fff"/>
<rect x="340.7" y="480.4" width="7" height="2.5" fill="#828282"/>
<rect x="340.2" y="490.7" width="8" height="3.6" fill="#fff"/>
<rect x="340.7" y="491.2" width="7" height="2.5" fill="#828282"/>
<rect x="340.2" y="501.6" width="8" height="3.6" fill="#fff"/>
<rect x="340.7" y="502.1" width="7" height="2.5" fill="#828282"/>
<rect x="340.2" y="512.5" width="8" height="3.6" fill="#fff"/>
<rect x="340.7" y="513" width="7" height="2.5" fill="#828282"/>
<rect x="340.2" y="523.3" width="8" height="3.6" fill="#fff"/>
<rect x="340.7" y="523.9" width="7" height="2.5" fill="#828282"/>
<rect x="341.2" y="534.2" width="6" height="3.6" fill="#fff"/>
<rect x="341.7" y="534.8" width="5" height="2.5" fill="#828282"/>
<rect x="341.2" y="545.1" width="6" height="3.6" fill="#fff"/>
<rect x="341.7" y="545.7" width="5" height="2.5" fill="#828282"/>
<rect x="341.2" y="556" width="6" height="3.6" fill="#fff"/>
<rect x="341.7" y="556.5" width="5" height="2.5" fill="#828282"/>
<path d="M452.8 481.6V557.8" stroke="#888" stroke-width="1" stroke-dasharray="2.2 1.4" fill="none"/>
<rect x="448.8" y="479.8" width="8" height="3.6" fill="#fff"/>
<rect x="449.3" y="480.4" width="7" height="2.5" fill="#828282"/>
<rect x="448.8" y="490.7" width="8" height="3.6" fill="#fff"/>
<rect x="449.3" y="491.2" width="7" height="2.5" fill="#828282"/>
<rect x="448.8" y="501.6" width="8" height="3.6" fill="#fff"/>
<rect x="449.3" y="502.1" width="7" height="2.5" fill="#828282"/>
<rect x="448.8" y="512.5" width="8" height="3.6" fill="#fff"/>
<rect x="449.3" y="513" width="7" height="2.5" fill="#828282"/>
<rect x="448.8" y="523.3" width="8" height="3.6" fill="#fff"/>
<rect x="449.3" y="523.9" width="7" height="2.5" fill="#828282"/>
<rect x="449.8" y="534.2" width="6" height="3.6" fill="#fff"/>
<rect x="450.3" y="534.8" width="5" height="2.5" fill="#828282"/>
<rect x="449.8" y="545.1" width="6" height="3.6" fill="#fff"/>
<rect x="450.3" y="545.7" width="5" height="2.5" fill="#828282"/>
<rect x="449.8" y="556" width="6" height="3.6" fill="#fff"/>
<rect x="450.3" y="556.5" width="5" height="2.5" fill="#828282"/>
</g>
<g transform="rotate(-0.1 375.3 594.7)">
<path d="M197.5 573V616.4M202.7 573V616.4M207.9 573V616.4M213.1 573V616.4M218.3 573V616.4M188.8 573V616.4M229 573V616.4M234.4 573V616.4M239.8 573V616.4M245.3 573V616.4M250.7 573V616.4M261.6 573V616.4M267 573V616.4M272.4 573V616.4M277.9 573V616.4M283.3 573V616.4M294.1 573V616.4M299.6 573V616.4M305 573V616.4M310.4 573V616.4M315.9 573V616.4M326.7 573V616.4M332.1 573V616.4M337.6 573V616.4M343 573V616.4M348.4 573V616.4M359.3 573V616.4M364.7 573V616.4M370.2 573V616.4M375.6 573V616.4M381 573V616.4M391.9 573V616.4M397.3 573V616.4M402.7 573V616.4M408.2 573V616.4M413.6 573V616.4M424.5 573V616.4M429.9 573V616.4M435.3 573V616.4M440.8 573V616.4M446.2 573V616.4M457 573V616.4M462.5 573V616.4M467.9 573V616.4M473.3 573V616.4M478.8 573V616.4M489.6 573V616.4M495.1 573V616.4M500.5 573V616.4M505.9 573V616.4M511.3 573V616.4M522.2 573V616.4M527.6 573V616.4M533.1 573V616.4M538.5 573V616.4M543.9 573V616.4M554.8 573V616.4" stroke="#5e5e5e" stroke-width="0.95" fill="none"/>
<path d="M188.5 573H557.1M188.5 577.3H557.1M188.5 581.7H557.1M188.5 586H557.1M188.5 590.4H557.1M188.5 594.7H557.1M188.5 599H557.1M188.5 603.4H557.1M188.5 607.7H557.1M188.5 612.1H557.1M188.5 616.4H557.1" stroke="#6a6a6a" stroke-width="0.8" fill="none"/>
<path d="M192.3 573V616.4M223.6 573V616.4M256.1 573V616.4M288.7 573V616.4M321.3 573V616.4M353.9 573V616.4M386.4 573V616.4M419 573V616.4M451.6 573V616.4M484.2 573V616.4M516.8 573V616.4M549.3 573V616.4" stroke="#484848" stroke-width="1.0" fill="none"/>
<path d="M188.5 573H557.1M188.5 616.4H557.1" stroke="#555" stroke-width="0.7" fill="none"/>
<path d="M188.5 607.7H557.1" stroke="#4c4c4c" stroke-width="1.0" fill="none"/>
<rect x="188" y="574" width="2.6" height="2.4" fill="#555"/>
<rect x="188" y="582.6" width="2.6" height="2.4" fill="#555"/>
<rect x="188" y="591.3" width="2.6" height="2.4" fill="#555"/>
<rect x="188" y="604.3" width="2.6" height="2.4" fill="#555"/>
<rect x="188" y="608.7" width="2.6" height="2.4" fill="#555"/>
<rect x="188" y="613" width="2.6" height="2.4" fill="#555"/>
<path d="M234.4 573V616.4" stroke="#888" stroke-width="1" stroke-dasharray="2.2 1.4" fill="none"/>
<rect x="230.4" y="571.1" width="8" height="3.8" fill="#fff"/>
<rect x="230.9" y="571.6" width="7" height="2.7" fill="#767676"/>
<rect x="231.4" y="579.8" width="6" height="3.8" fill="#fff"/>
<rect x="231.9" y="580.3" width="5" height="2.7" fill="#767676"/>
<rect x="231.4" y="588.5" width="6" height="3.8" fill="#fff"/>
<rect x="231.9" y="589" width="5" height="2.7" fill="#767676"/>
<rect x="231.4" y="597.1" width="6" height="3.8" fill="#fff"/>
<rect x="231.9" y="597.7" width="5" height="2.7" fill="#767676"/>
<rect x="231.4" y="605.8" width="6" height="3.8" fill="#fff"/>
<rect x="231.9" y="606.4" width="5" height="2.7" fill="#767676"/>
<rect x="232.7" y="614.5" width="3.5" height="3.8" fill="#fff"/>
<rect x="233.2" y="615" width="2.5" height="2.7" fill="#767676"/>
<path d="M343 573V616.4" stroke="#888" stroke-width="1" stroke-dasharray="2.2 1.4" fill="none"/>
<rect x="339" y="571.1" width="8" height="3.8" fill="#fff"/>
<rect x="339.5" y="571.6" width="7" height="2.7" fill="#767676"/>
<rect x="340" y="579.8" width="6" height="3.8" fill="#fff"/>
<rect x="340.5" y="580.3" width="5" height="2.7" fill="#767676"/>
<rect x="340" y="588.5" width="6" height="3.8" fill="#fff"/>
<rect x="340.5" y="589" width="5" height="2.7" fill="#767676"/>
<rect x="340" y="597.1" width="6" height="3.8" fill="#fff"/>
<rect x="340.5" y="597.7" width="5" height="2.7" fill="#767676"/>
<rect x="340" y="605.8" width="6" height="3.8" fill="#fff"/>
<rect x="340.5" y="606.4" width="5" height="2.7" fill="#767676"/>
<rect x="341.3" y="614.5" width="3.5" height="3.8" fill="#fff"/>
<rect x="341.8" y="615" width="2.5" height="2.7" fill="#767676"/>
<path d="M451.6 573V616.4" stroke="#888" stroke-width="1" stroke-dasharray="2.2 1.4" fill="none"/>
<rect x="447.6" y="571.1" width="8" height="3.8" fill="#fff"/>
<rect x="448.1" y="571.6" width="7" height="2.7" fill="#767676"/>
<rect x="448.6" y="579.8" width="6" height="3.8" fill="#fff"/>
<rect x="449.1" y="580.3" width="5" height="2.7" fill="#767676"/>
<rect x="448.6" y="588.5" width="6" height="3.8" fill="#fff"/>
<rect x="449.1" y="589" width="5" height="2.7" fill="#767676"/>
<rect x="448.6" y="597.1" width="6" height="3.8" fill="#fff"/>
<rect x="449.1" y="597.7" width="5" height="2.7" fill="#767676"/>
<rect x="448.6" y="605.8" width="6" height="3.8" fill="#fff"/>
<rect x="449.1" y="606.4" width="5" height="2.7" fill="#767676"/>
<rect x="449.9" y="614.5" width="3.5" height="3.8" fill="#fff"/>
<rect x="450.4" y="615" width="2.5" height="2.7" fill="#767676"/>
<rect x="289.3" y="573.7" width="9.7" height="42" fill="#fff" opacity="0.88"/>
<rect x="290.3" y="574.1" width="7.6" height="2.3" fill="#666"/>
<rect x="292" y="578.4" width="4.2" height="2.3" fill="#666"/>
<rect x="291" y="582.8" width="6.2" height="2.3" fill="#666"/>
<rect x="291.2" y="587.1" width="5.8" height="2.3" fill="#666"/>
<rect x="290.6" y="591.4" width="7" height="2.3" fill="#666"/>
<rect x="292.2" y="595.8" width="3.8" height="2.3" fill="#666"/>
<rect x="292" y="600.1" width="4.2" height="2.3" fill="#666"/>
<rect x="290.5" y="604.4" width="7.2" height="2.3" fill="#666"/>
<rect x="290.3" y="608.8" width="7.6" height="2.3" fill="#666"/>
<rect x="291.5" y="613.1" width="5.2" height="2.3" fill="#666"/>
<path d="M288.7 565V573" stroke="#b5b5b5" stroke-width="1" fill="none"/>
<path d="M288.7 573V616.4" stroke="#333" stroke-width="0.95" fill="none"/>
<path d="M299.6 573V616.4" stroke="#5a5a5a" stroke-width="0.95" fill="none"/>
<rect x="397.9" y="573.7" width="9.7" height="42" fill="#fff" opacity="0.88"/>
<rect x="398.9" y="574.1" width="7.6" height="2.3" fill="#666"/>
<rect x="400.6" y="578.4" width="4.2" height="2.3" fill="#666"/>
<rect x="399.6" y="582.8" width="6.2" height="2.3" fill="#666"/>
<rect x="399.8" y="587.1" width="5.8" height="2.3" fill="#666"/>
<rect x="399.2" y="591.4" width="7" height="2.3" fill="#666"/>
<rect x="400.8" y="595.8" width="3.8" height="2.3" fill="#666"/>
<rect x="400.6" y="600.1" width="4.2" height="2.3" fill="#666"/>
<rect x="399.1" y="604.4" width="7.2" height="2.3" fill="#666"/>
<rect x="398.9" y="608.8" width="7.6" height="2.3" fill="#666"/>
<rect x="400.1" y="613.1" width="5.2" height="2.3" fill="#666"/>
<path d="M397.3 565V573" stroke="#b5b5b5" stroke-width="1" fill="none"/>
<path d="M397.3 573V616.4" stroke="#333" stroke-width="0.95" fill="none"/>
<path d="M408.2 573V616.4" stroke="#5a5a5a" stroke-width="0.95" fill="none"/>
<rect x="506.5" y="573.7" width="9.7" height="42" fill="#fff" opacity="0.88"/>
<rect x="507.5" y="574.1" width="7.6" height="2.3" fill="#666"/>
<rect x="509.2" y="578.4" width="4.2" height="2.3" fill="#666"/>
<rect x="508.2" y="582.8" width="6.2" height="2.3" fill="#666"/>
<rect x="508.4" y="587.1" width="5.8" height="2.3" fill="#666"/>
<rect x="507.8" y="591.4" width="7" height="2.3" fill="#666"/>
<rect x="509.4" y="595.8" width="3.8" height="2.3" fill="#666"/>
<rect x="509.2" y="600.1" width="4.2" height="2.3" fill="#666"/>
<rect x="507.7" y="604.4" width="7.2" height="2.3" fill="#666"/>
<rect x="507.5" y="608.8" width="7.6" height="2.3" fill="#666"/>
<rect x="508.7" y="613.1" width="5.2" height="2.3" fill="#666"/>
<path d="M505.9 565V573" stroke="#b5b5b5" stroke-width="1" fill="none"/>
<path d="M505.9 573V616.4" stroke="#333" stroke-width="0.95" fill="none"/>
<path d="M516.8 573V616.4" stroke="#5a5a5a" stroke-width="0.95" fill="none"/>
</g>
<rect x="203" y="470.9" width="3" height="2.5" rx="0.9" fill="#1c1c1c"/>
<rect x="217.8" y="470.9" width="7.2" height="3" rx="0.9" fill="#1c1c1c"/>
<rect x="310.1" y="471.1" width="3" height="2.5" rx="0.9" fill="#1c1c1c"/>
<rect x="325.9" y="471.1" width="7.2" height="3" rx="0.9" fill="#1c1c1c"/>
<rect x="417.4" y="471.6" width="3" height="2.5" rx="0.9" fill="#1c1c1c"/>
<rect x="433.1" y="471.5" width="7.2" height="3" rx="0.9" fill="#1c1c1c"/>
<rect x="527.8" y="472" width="3" height="3.2" rx="0.9" fill="#1c1c1c"/>
<rect x="543.3" y="472.5" width="7.2" height="3" rx="0.9" fill="#1c1c1c"/>
</g>
<g filter="url(#bl2)">
<path d="M191.4 522.4L194.1 522.5L196.8 522.7L199.5 522.1L202.7 521.9L206 521.6L209.2 520.9L212.5 520.9L215.7 521.3L219 521.8L222.2 521.3L225.5 521.7L228.7 518.8L232 516.1L234.7 514.8L237.4 513.1L240.1 512.4L242.8 511.9L245.5 511.1L248.2 510.6L251.5 511.7L254.7 513.3L257.3 519.3L259.6 523.3L262.3 522.4L265 521.6L267.7 520.5L270.1 520.7L272.4 520.5L274.7 520.8L277 520.3L279.4 520.3L281.7 520L284 520.1L286.4 520.4L288.9 520.7L291.3 521.8L293.7 522.3L296.1 522.3L298.4 522.1L300.7 521.6L303 521.5L305.4 521.6L307.7 521.3L310 522L313.2 518.9L316.5 516.2L319.7 514.8L323 514.1L325.4 515.8L327.9 517.5L332.1 522.4L334.5 521.4L336.9 519.9L339.2 518.9L341.6 518.4L343.9 517.9L346.2 518.3L348.5 518.3L350.9 517.7L353.2 517.3L355.5 517.4L357.9 518.3L360.4 518.4L362.8 518.1L365.2 518.5L367.7 518.7L370.1 518.9L372.6 519.9L375 519.6L378.2 520L381.5 519.9L384.7 517L388 514.5L390.4 513L392.9 512L395.3 510.5L397.7 509.4L401 511L404.2 512.7L406.2 519.3L408.1 523L410.4 522.2L412.7 522.1L415 521.1L417.2 520.8L419.5 521.1L421.8 520.7L424.1 520L426.3 520.7L428.6 519.8L430.9 519.7L433.2 520L435.4 519.4L437.7 519.2L440 518.8L442.6 519.3L445.2 520.1L447.8 520.2L450.4 520.9L453 521.1L455.6 521.1L458.2 521.7L460.8 521.2L463.4 521.3L466 521.4L468.7 519.3L471.4 517.6L474.1 516.2L476.4 515.4L478.7 514.3L480.9 513.5L483.2 513L485.5 512.4L488.7 513.9L492 516.1L494.6 521L496.5 523.2L499.4 522.4L502.2 521.5L505 520.8L507.4 521.2L509.9 520.2L512.3 520.3L514.7 519.5L517.2 519.7L519.6 519.1L522.1 518.5L524.5 518L526.9 518.4L529.4 517.6L531.8 517.7L534.2 518L536.7 518.3L539.1 517.9L541.6 517.5L544 518L546.6 518.1L549.2 518.6L551.8 519.4L554.4 520.2L557 520.3" stroke="#444" stroke-width="1.0" fill="none" stroke-linejoin="round"/>
<path d="M188.1 612.8C190.5 612.8 199.4 613.5 202.7 612.5C206.1 611.6 206.9 609.3 209.2 607C211.6 604.7 214.8 599.8 217.4 597.9C220 596 222.9 594.8 225.5 595C228.1 595.1 231.3 596.9 233.6 598.9C236 600.8 237.8 604.9 240.1 607C242.5 609.1 245.4 610.9 248.2 611.9C251.1 612.8 253.8 612.8 258 612.8C262.2 612.8 270.1 613.2 274.2 611.9C278.4 610.5 280.9 606.8 284 604.4C287.1 602 291.1 598 293.7 596.6C296.3 595.2 297.9 595 300.2 595.6C302.6 596.2 305.8 598.7 308.4 600.5C311 602.3 313.6 605.2 316.5 607C319.4 608.8 323.1 611.2 326.2 611.9C329.4 612.5 332.9 612.7 336 610.9C339.1 609.1 342.6 603.8 345.7 600.5C348.9 597.2 352.4 592.3 355.5 590.1C358.6 587.9 362.1 586.8 365.2 586.5C368.4 586.2 372.1 586.7 375 588.1C377.9 589.6 380.5 592.9 383.1 595.6C385.7 598.4 388.4 603 391.2 605.4C394.1 607.7 396.3 609.4 401 610.2C405.7 611.1 415.8 611.7 420.5 610.9C425.2 610.1 426.6 607.8 430.2 605.4C433.9 602.9 439.6 597.9 443.2 595.6C446.9 593.4 450.4 591.7 453 591.4C455.6 591.1 457.2 592 459.5 594C461.8 596 464.5 601 467.6 603.7C470.7 606.5 475.1 609.6 479 610.9C482.9 612.2 487.8 612.5 492 611.9C496.2 611.2 500.8 609.9 505 607C509.2 604.1 514.1 597.1 518 594C521.9 590.9 526.5 588.4 529.4 587.5C532.2 586.6 533.8 586.6 535.9 588.1C537.9 589.7 540.3 594.2 542.4 597.2C544.4 600.3 546.5 605.2 548.9 607C551.2 608.8 555.7 608.4 557 608.6" stroke="#484848" stroke-width="1.05" fill="none" stroke-linejoin="round"/>
</g>
<g filter="url(#bl)">
<g transform="rotate(0.2 374.7 685.6)">
<path d="M196.6 646.9V724.4M201.8 646.9V724.4M206.9 646.9V724.4M212.1 646.9V724.4M217.3 646.9V724.4M227.9 646.9V724.4M233.3 646.9V724.4M238.8 646.9V724.4M244.2 646.9V724.4M249.6 646.9V724.4M260.4 646.9V724.4M265.8 646.9V724.4M271.2 646.9V724.4M276.7 646.9V724.4M282.1 646.9V724.4M292.9 646.9V724.4M298.3 646.9V724.4M303.8 646.9V724.4M309.2 646.9V724.4M314.6 646.9V724.4M325.4 646.9V724.4M330.8 646.9V724.4M336.2 646.9V724.4M341.7 646.9V724.4M347.1 646.9V724.4M357.9 646.9V724.4M363.3 646.9V724.4M368.8 646.9V724.4M374.2 646.9V724.4M379.6 646.9V724.4M390.4 646.9V724.4M395.8 646.9V724.4M401.2 646.9V724.4M406.7 646.9V724.4M412.1 646.9V724.4M422.9 646.9V724.4M428.3 646.9V724.4M433.8 646.9V724.4M439.2 646.9V724.4M444.6 646.9V724.4M455.4 646.9V724.4M460.8 646.9V724.4M466.2 646.9V724.4M471.7 646.9V724.4M477.1 646.9V724.4M487.9 646.9V724.4M493.3 646.9V724.4M498.8 646.9V724.4M504.2 646.9V724.4M509.6 646.9V724.4M520.4 646.9V724.4M525.8 646.9V724.4M531.2 646.9V724.4M536.7 646.9V724.4M542.1 646.9V724.4M552.9 646.9V724.4" stroke="#505050" stroke-width="0.75" fill="none"/>
<path d="M187.1 646.9H558M187.1 650.5H558M187.1 654.2H558M187.1 657.9H558M187.1 661.6H558M187.1 665.3H558M187.1 669H558M187.1 672.7H558M187.1 676.4H558M187.1 680.1H558M187.1 683.8H558M187.1 687.4H558M187.1 691.1H558M187.1 694.8H558M187.1 698.5H558M187.1 702.2H558M187.1 705.9H558M187.1 709.6H558M187.1 713.3H558M187.1 717H558M187.1 720.7H558M187.1 724.4H558" stroke="#606060" stroke-width="0.65" fill="none"/>
<path d="M191.4 646.9V724.4M222.5 646.9V724.4M255 646.9V724.4M287.5 646.9V724.4M320 646.9V724.4M352.5 646.9V724.4M385 646.9V724.4M417.5 646.9V724.4M450 646.9V724.4M482.5 646.9V724.4M515 646.9V724.4M547.5 646.9V724.4" stroke="#484848" stroke-width="1.0" fill="none"/>
<path d="M191.4 641.9V644.9M222.5 641.9V644.9M255 641.9V644.9M287.5 641.9V644.9M320 641.9V644.9M352.5 641.9V644.9M385 641.9V644.9M417.5 641.9V644.9M450 641.9V644.9M482.5 641.9V644.9M515 641.9V644.9M547.5 641.9V644.9" stroke="#555" stroke-width="1.1" fill="none"/>
<path d="M187.1 646.9H558M187.1 724.4H558" stroke="#555" stroke-width="0.7" fill="none"/>
<path d="M233.3 646.9V724.4" stroke="#888" stroke-width="1" stroke-dasharray="2.2 1.4" fill="none"/>
<rect x="229.3" y="645.1" width="8" height="3.6" fill="#fff"/>
<rect x="229.8" y="645.6" width="7" height="2.5" fill="#828282"/>
<rect x="229.3" y="656.1" width="8" height="3.6" fill="#fff"/>
<rect x="229.8" y="656.7" width="7" height="2.5" fill="#828282"/>
<rect x="229.3" y="667.2" width="8" height="3.6" fill="#fff"/>
<rect x="229.8" y="667.7" width="7" height="2.5" fill="#828282"/>
<rect x="229.3" y="678.3" width="8" height="3.6" fill="#fff"/>
<rect x="229.8" y="678.8" width="7" height="2.5" fill="#828282"/>
<rect x="229.3" y="689.3" width="8" height="3.6" fill="#fff"/>
<rect x="229.8" y="689.9" width="7" height="2.5" fill="#828282"/>
<rect x="230.3" y="700.4" width="6" height="3.6" fill="#fff"/>
<rect x="230.8" y="701" width="5" height="2.5" fill="#828282"/>
<rect x="230.3" y="711.5" width="6" height="3.6" fill="#fff"/>
<rect x="230.8" y="712" width="5" height="2.5" fill="#828282"/>
<rect x="230.3" y="722.6" width="6" height="3.6" fill="#fff"/>
<rect x="230.8" y="723.1" width="5" height="2.5" fill="#828282"/>
<path d="M341.7 646.9V724.4" stroke="#888" stroke-width="1" stroke-dasharray="2.2 1.4" fill="none"/>
<rect x="337.7" y="645.1" width="8" height="3.6" fill="#fff"/>
<rect x="338.2" y="645.6" width="7" height="2.5" fill="#828282"/>
<rect x="337.7" y="656.1" width="8" height="3.6" fill="#fff"/>
<rect x="338.2" y="656.7" width="7" height="2.5" fill="#828282"/>
<rect x="337.7" y="667.2" width="8" height="3.6" fill="#fff"/>
<rect x="338.2" y="667.7" width="7" height="2.5" fill="#828282"/>
<rect x="337.7" y="678.3" width="8" height="3.6" fill="#fff"/>
<rect x="338.2" y="678.8" width="7" height="2.5" fill="#828282"/>
<rect x="337.7" y="689.3" width="8" height="3.6" fill="#fff"/>
<rect x="338.2" y="689.9" width="7" height="2.5" fill="#828282"/>
<rect x="338.7" y="700.4" width="6" height="3.6" fill="#fff"/>
<rect x="339.2" y="701" width="5" height="2.5" fill="#828282"/>
<rect x="338.7" y="711.5" width="6" height="3.6" fill="#fff"/>
<rect x="339.2" y="712" width="5" height="2.5" fill="#828282"/>
<rect x="338.7" y="722.6" width="6" height="3.6" fill="#fff"/>
<rect x="339.2" y="723.1" width="5" height="2.5" fill="#828282"/>
<path d="M450 646.9V724.4" stroke="#888" stroke-width="1" stroke-dasharray="2.2 1.4" fill="none"/>
<rect x="446" y="645.1" width="8" height="3.6" fill="#fff"/>
<rect x="446.5" y="645.6" width="7" height="2.5" fill="#828282"/>
<rect x="446" y="656.1" width="8" height="3.6" fill="#fff"/>
<rect x="446.5" y="656.7" width="7" height="2.5" fill="#828282"/>
<rect x="446" y="667.2" width="8" height="3.6" fill="#fff"/>
<rect x="446.5" y="667.7" width="7" height="2.5" fill="#828282"/>
<rect x="446" y="678.3" width="8" height="3.6" fill="#fff"/>
<rect x="446.5" y="678.8" width="7" height="2.5" fill="#828282"/>
<rect x="446" y="689.3" width="8" height="3.6" fill="#fff"/>
<rect x="446.5" y="689.9" width="7" height="2.5" fill="#828282"/>
<rect x="447" y="700.4" width="6" height="3.6" fill="#fff"/>
<rect x="447.5" y="701" width="5" height="2.5" fill="#828282"/>
<rect x="447" y="711.5" width="6" height="3.6" fill="#fff"/>
<rect x="447.5" y="712" width="5" height="2.5" fill="#828282"/>
<rect x="447" y="722.6" width="6" height="3.6" fill="#fff"/>
<rect x="447.5" y="723.1" width="5" height="2.5" fill="#828282"/>
<path d="M558.3 646.9V724.4" stroke="#888" stroke-width="1" stroke-dasharray="2.2 1.4" fill="none"/>
<rect x="556.1" y="645.1" width="4.5" height="3.6" fill="#fff"/>
<rect x="556.6" y="645.6" width="3.5" height="2.5" fill="#828282"/>
<rect x="556.1" y="656.1" width="4.5" height="3.6" fill="#fff"/>
<rect x="556.6" y="656.7" width="3.5" height="2.5" fill="#828282"/>
<rect x="556.1" y="667.2" width="4.5" height="3.6" fill="#fff"/>
<rect x="556.6" y="667.7" width="3.5" height="2.5" fill="#828282"/>
<rect x="556.1" y="678.3" width="4.5" height="3.6" fill="#fff"/>
<rect x="556.6" y="678.8" width="3.5" height="2.5" fill="#828282"/>
<rect x="556.1" y="689.3" width="4.5" height="3.6" fill="#fff"/>
<rect x="556.6" y="689.9" width="3.5" height="2.5" fill="#828282"/>
<rect x="556.1" y="700.4" width="4.5" height="3.6" fill="#fff"/>
<rect x="556.6" y="701" width="3.5" height="2.5" fill="#828282"/>
<rect x="556.1" y="711.5" width="4.5" height="3.6" fill="#fff"/>
<rect x="556.6" y="712" width="3.5" height="2.5" fill="#828282"/>
<rect x="556.1" y="722.6" width="4.5" height="3.6" fill="#fff"/>
<rect x="556.6" y="723.1" width="3.5" height="2.5" fill="#828282"/>
</g>
<g transform="rotate(0.0 374.7 761.5)">
<path d="M195.3 739.6V783.3M200.5 739.6V783.3M205.6 739.6V783.3M210.8 739.6V783.3M216 739.6V783.3M186.3 739.6V783.3M226.6 739.6V783.3M232 739.6V783.3M237.4 739.6V783.3M242.8 739.6V783.3M248.2 739.6V783.3M258.9 739.6V783.3M264.3 739.6V783.3M269.7 739.6V783.3M275.1 739.6V783.3M280.5 739.6V783.3M291.3 739.6V783.3M296.7 739.6V783.3M302.1 739.6V783.3M307.5 739.6V783.3M312.9 739.6V783.3M323.6 739.6V783.3M329 739.6V783.3M334.4 739.6V783.3M339.8 739.6V783.3M345.2 739.6V783.3M356 739.6V783.3M361.4 739.6V783.3M366.8 739.6V783.3M372.2 739.6V783.3M377.6 739.6V783.3M388.3 739.6V783.3M393.7 739.6V783.3M399.1 739.6V783.3M404.5 739.6V783.3M409.9 739.6V783.3M420.7 739.6V783.3M426.1 739.6V783.3M431.5 739.6V783.3M436.9 739.6V783.3M442.3 739.6V783.3M453 739.6V783.3M458.4 739.6V783.3M463.8 739.6V783.3M469.2 739.6V783.3M474.6 739.6V783.3M485.4 739.6V783.3M490.8 739.6V783.3M496.2 739.6V783.3M501.6 739.6V783.3M507 739.6V783.3M517.7 739.6V783.3M523.1 739.6V783.3M528.5 739.6V783.3M533.9 739.6V783.3M539.3 739.6V783.3M550.1 739.6V783.3M555.5 739.6V783.3" stroke="#5e5e5e" stroke-width="0.95" fill="none"/>
<path d="M186 739.6H558M186 744H558M186 748.3H558M186 752.7H558M186 757.1H558M186 761.5H558M186 765.8H558M186 770.2H558M186 774.6H558M186 778.9H558M186 783.3H558" stroke="#6a6a6a" stroke-width="0.8" fill="none"/>
<path d="M190.1 739.6V783.3M221.2 739.6V783.3M253.5 739.6V783.3M285.9 739.6V783.3M318.2 739.6V783.3M350.6 739.6V783.3M382.9 739.6V783.3M415.3 739.6V783.3M447.6 739.6V783.3M480 739.6V783.3M512.3 739.6V783.3M544.7 739.6V783.3" stroke="#484848" stroke-width="1.0" fill="none"/>
<path d="M186 739.6H558M186 783.3H558" stroke="#555" stroke-width="0.7" fill="none"/>
<path d="M186 774.6H558" stroke="#2a2a2a" stroke-width="1.0" fill="none"/>
<rect x="185.5" y="740.6" width="2.6" height="2.4" fill="#555"/>
<rect x="185.5" y="749.3" width="2.6" height="2.4" fill="#555"/>
<rect x="185.5" y="758.1" width="2.6" height="2.4" fill="#555"/>
<rect x="185.5" y="771.2" width="2.6" height="2.4" fill="#555"/>
<rect x="185.5" y="775.5" width="2.6" height="2.4" fill="#555"/>
<rect x="185.5" y="779.9" width="2.6" height="2.4" fill="#555"/>
<path d="M232 739.6V783.3" stroke="#888" stroke-width="1" stroke-dasharray="2.2 1.4" fill="none"/>
<rect x="228" y="737.7" width="8" height="3.8" fill="#fff"/>
<rect x="228.5" y="738.2" width="7" height="2.7" fill="#767676"/>
<rect x="229" y="746.4" width="6" height="3.8" fill="#fff"/>
<rect x="229.5" y="747" width="5" height="2.7" fill="#767676"/>
<rect x="229" y="755.2" width="6" height="3.8" fill="#fff"/>
<rect x="229.5" y="755.7" width="5" height="2.7" fill="#767676"/>
<rect x="229" y="763.9" width="6" height="3.8" fill="#fff"/>
<rect x="229.5" y="764.5" width="5" height="2.7" fill="#767676"/>
<rect x="229" y="772.7" width="6" height="3.8" fill="#fff"/>
<rect x="229.5" y="773.2" width="5" height="2.7" fill="#767676"/>
<rect x="230.2" y="781.4" width="3.5" height="3.8" fill="#fff"/>
<rect x="230.7" y="781.9" width="2.5" height="2.7" fill="#767676"/>
<path d="M339.8 739.6V783.3" stroke="#888" stroke-width="1" stroke-dasharray="2.2 1.4" fill="none"/>
<rect x="335.8" y="737.7" width="8" height="3.8" fill="#fff"/>
<rect x="336.3" y="738.2" width="7" height="2.7" fill="#767676"/>
<rect x="336.8" y="746.4" width="6" height="3.8" fill="#fff"/>
<rect x="337.3" y="747" width="5" height="2.7" fill="#767676"/>
<rect x="336.8" y="755.2" width="6" height="3.8" fill="#fff"/>
<rect x="337.3" y="755.7" width="5" height="2.7" fill="#767676"/>
<rect x="336.8" y="763.9" width="6" height="3.8" fill="#fff"/>
<rect x="337.3" y="764.5" width="5" height="2.7" fill="#767676"/>
<rect x="336.8" y="772.7" width="6" height="3.8" fill="#fff"/>
<rect x="337.3" y="773.2" width="5" height="2.7" fill="#767676"/>
<rect x="338.1" y="781.4" width="3.5" height="3.8" fill="#fff"/>
<rect x="338.6" y="781.9" width="2.5" height="2.7" fill="#767676"/>
<path d="M447.6 739.6V783.3" stroke="#888" stroke-width="1" stroke-dasharray="2.2 1.4" fill="none"/>
<rect x="443.6" y="737.7" width="8" height="3.8" fill="#fff"/>
<rect x="444.1" y="738.2" width="7" height="2.7" fill="#767676"/>
<rect x="444.6" y="746.4" width="6" height="3.8" fill="#fff"/>
<rect x="445.1" y="747" width="5" height="2.7" fill="#767676"/>
<rect x="444.6" y="755.2" width="6" height="3.8" fill="#fff"/>
<rect x="445.1" y="755.7" width="5" height="2.7" fill="#767676"/>
<rect x="444.6" y="763.9" width="6" height="3.8" fill="#fff"/>
<rect x="445.1" y="764.5" width="5" height="2.7" fill="#767676"/>
<rect x="444.6" y="772.7" width="6" height="3.8" fill="#fff"/>
<rect x="445.1" y="773.2" width="5" height="2.7" fill="#767676"/>
<rect x="445.9" y="781.4" width="3.5" height="3.8" fill="#fff"/>
<rect x="446.4" y="781.9" width="2.5" height="2.7" fill="#767676"/>
<path d="M555.5 739.6V783.3" stroke="#888" stroke-width="1" stroke-dasharray="2.2 1.4" fill="none"/>
<rect x="553.5" y="737.7" width="4" height="3.8" fill="#fff"/>
<rect x="554" y="738.2" width="3" height="2.7" fill="#767676"/>
<rect x="553.5" y="746.4" width="4" height="3.8" fill="#fff"/>
<rect x="554" y="747" width="3" height="2.7" fill="#767676"/>
<rect x="553.5" y="755.2" width="4" height="3.8" fill="#fff"/>
<rect x="554" y="755.7" width="3" height="2.7" fill="#767676"/>
<rect x="553.5" y="763.9" width="4" height="3.8" fill="#fff"/>
<rect x="554" y="764.5" width="3" height="2.7" fill="#767676"/>
<rect x="553.5" y="772.7" width="4" height="3.8" fill="#fff"/>
<rect x="554" y="773.2" width="3" height="2.7" fill="#767676"/>
<rect x="553.5" y="781.4" width="4" height="3.8" fill="#fff"/>
<rect x="554" y="781.9" width="3" height="2.7" fill="#767676"/>
<rect x="286.5" y="740.3" width="9.6" height="42.3" fill="#fff" opacity="0.88"/>
<rect x="287.5" y="740.7" width="7.6" height="2.3" fill="#666"/>
<rect x="289.2" y="745.1" width="4.2" height="2.3" fill="#666"/>
<rect x="288.2" y="749.4" width="6.2" height="2.3" fill="#666"/>
<rect x="288.4" y="753.8" width="5.8" height="2.3" fill="#666"/>
<rect x="287.8" y="758.2" width="7" height="2.3" fill="#666"/>
<rect x="289.4" y="762.5" width="3.8" height="2.3" fill="#666"/>
<rect x="289.2" y="766.9" width="4.2" height="2.3" fill="#666"/>
<rect x="287.7" y="771.3" width="7.2" height="2.3" fill="#666"/>
<rect x="287.5" y="775.6" width="7.6" height="2.3" fill="#666"/>
<rect x="288.7" y="780" width="5.2" height="2.3" fill="#666"/>
<path d="M285.9 731.6V739.6" stroke="#b5b5b5" stroke-width="1" fill="none"/>
<path d="M285.9 739.6V783.3" stroke="#333" stroke-width="0.95" fill="none"/>
<path d="M296.7 739.6V783.3" stroke="#5a5a5a" stroke-width="0.95" fill="none"/>
<rect x="394.3" y="740.3" width="9.6" height="42.3" fill="#fff" opacity="0.88"/>
<rect x="395.3" y="740.7" width="7.6" height="2.3" fill="#666"/>
<rect x="397" y="745.1" width="4.2" height="2.3" fill="#666"/>
<rect x="396" y="749.4" width="6.2" height="2.3" fill="#666"/>
<rect x="396.2" y="753.8" width="5.8" height="2.3" fill="#666"/>
<rect x="395.6" y="758.2" width="7" height="2.3" fill="#666"/>
<rect x="397.2" y="762.5" width="3.8" height="2.3" fill="#666"/>
<rect x="397" y="766.9" width="4.2" height="2.3" fill="#666"/>
<rect x="395.5" y="771.3" width="7.2" height="2.3" fill="#666"/>
<rect x="395.3" y="775.6" width="7.6" height="2.3" fill="#666"/>
<rect x="396.5" y="780" width="5.2" height="2.3" fill="#666"/>
<path d="M393.7 731.6V739.6" stroke="#b5b5b5" stroke-width="1" fill="none"/>
<path d="M393.7 739.6V783.3" stroke="#333" stroke-width="0.95" fill="none"/>
<path d="M404.5 739.6V783.3" stroke="#5a5a5a" stroke-width="0.95" fill="none"/>
<rect x="502.2" y="740.3" width="9.6" height="42.3" fill="#fff" opacity="0.88"/>
<rect x="503.2" y="740.7" width="7.6" height="2.3" fill="#666"/>
<rect x="504.9" y="745.1" width="4.2" height="2.3" fill="#666"/>
<rect x="503.9" y="749.4" width="6.2" height="2.3" fill="#666"/>
<rect x="504.1" y="753.8" width="5.8" height="2.3" fill="#666"/>
<rect x="503.5" y="758.2" width="7" height="2.3" fill="#666"/>
<rect x="505.1" y="762.5" width="3.8" height="2.3" fill="#666"/>
<rect x="504.9" y="766.9" width="4.2" height="2.3" fill="#666"/>
<rect x="503.4" y="771.3" width="7.2" height="2.3" fill="#666"/>
<rect x="503.2" y="775.6" width="7.6" height="2.3" fill="#666"/>
<rect x="504.4" y="780" width="5.2" height="2.3" fill="#666"/>
<path d="M501.6 731.6V739.6" stroke="#b5b5b5" stroke-width="1" fill="none"/>
<path d="M501.6 739.6V783.3" stroke="#333" stroke-width="0.95" fill="none"/>
<path d="M512.3 739.6V783.3" stroke="#5a5a5a" stroke-width="0.95" fill="none"/>
</g>
<rect x="186.5" y="785.7" width="13" height="1.8" fill="#9a9a9a" opacity="0.55"/>
<rect x="401" y="785.7" width="11.5" height="1.8" fill="#9a9a9a" opacity="0.55"/>
</g>
<g filter="url(#bl2)">
<path d="M191.4 684L194.1 684.2L196.8 684.6L199.5 684.3L202.1 684.3L204.7 684.3L207.3 683.9L209.9 684.1L212.5 684.1L214.8 684L217.1 683.3L219.5 683.3L221.8 682.9L224.1 683.3L226.4 683L228.7 682.3L231.3 683L233.9 683L236.5 682.6L239.1 682.5L241.7 682.2L244.5 683.2L247.2 684.6L249.9 685.4L252.3 686L254.7 686.6L257.2 687.1L259.6 687.9L261.9 687.8L264.2 688.1L266.4 687.7L268.7 687.8L271 687.6L273.4 687.6L275.9 687.4L278.3 687.1L280.7 687.5L283.2 685.4L285.6 683.5L287.9 683.6L290.2 683.3L292.4 683.3L294.7 683.4L297 683.3L299.6 684L302.2 683.7L304.8 684.2L307.4 683.8L310 684.4L312.4 684.3L314.7 683.5L317.1 683.7L319.5 684.4L321.8 684L324.2 684.4L326.5 683.9L328.9 683.6L331.3 684.1L333.6 684.2L336 683.8L338.4 683.7L340.9 684L343.3 684.6L345.7 684.5L348.2 684.1L350.6 684.3L353.1 684.2L355.5 684.4L358.7 686.9L362 688.7L364.4 689.3L366.9 689.7L369.3 689.9L371.7 690.7L374.2 690L376.6 690.1L379.1 689.5L381.5 689.5L383.9 688.3L386.4 687.2L388.8 686.3L391.2 685.1L393.6 684.8L395.9 685.2L398.2 684.6L400.5 684.7L402.9 685L405.2 684.8L407.5 684.3L409.8 685L412.1 684.3L414.5 684.3L416.8 684.7L419.1 684.3L421.4 684.2L423.7 684L426.1 683.9L428.4 684.3L430.7 684L433 684.2L435.4 684L437.7 684L440 684.4L442.4 684.1L444.7 684.2L447.1 684.6L449.4 684.1L451.8 684.2L454.2 684.9L456.5 684.9L458.9 684.5L461.3 684.5L463.6 685.1L466 685.3L468.4 685.5L470.9 686.7L473.3 687.4L475.7 688L478.1 687.9L480.4 687.8L482.7 687.8L485 688.6L487.3 688.1L489.7 688.6L492 688.4L494.7 687.5L497.4 686.2L500.1 684.9L502.5 684.7L504.8 685.1L507.2 684.5L509.5 684.6L511.9 684.8L514.2 685.1L516.5 684.8L518.9 684.5L521.2 685L523.6 684.5L525.9 684.4L528.2 684.7L530.5 685L532.8 684.8L535.2 684.9L537.5 685.2L539.9 685.4L542.4 685.1L544.8 685.3L547.2 685.8L549.7 685.9L552.1 685.7L554.6 685.7L557 685.7" stroke="#333" stroke-width="1.25" fill="none" stroke-linejoin="round"/>
<path d="M188.1 779.9C189.4 779.7 193.6 780.2 196.2 778.9C198.8 777.6 201.8 774.7 204.4 771.7C207 768.8 209.9 763.2 212.5 760.4C215.1 757.5 217.5 755.2 220.6 753.9C223.7 752.6 228.4 751.9 232 752.2C235.6 752.6 240.5 753.8 243.4 756.1C246.2 758.5 248.1 763.9 249.9 766.9C251.7 769.9 252.4 772.9 254.7 775C257.1 777.1 259.3 779.1 264.5 779.9C269.7 780.7 279 779.9 287.2 779.9C295.5 779.9 310.2 781.1 315.8 779.9C321.5 778.7 319.7 775.2 322.3 772.4C324.9 769.6 329.2 765.1 332.1 762.6C335 760.2 337.9 757.7 340.5 757.1C343.1 756.5 346.1 757.8 348.3 758.7C350.6 759.7 353.2 761.5 354.8 763.3C356.5 765.1 357.5 767.9 358.7 770.1C360 772.3 361.1 775.4 362.6 776.9C364.2 778.5 363.9 779.2 368.5 779.5C373.1 779.9 384.6 779 391.2 778.9C397.9 778.8 405.5 779.9 410.1 778.9C414.7 777.9 416.3 775.3 419.8 772.4C423.4 769.5 428.3 763.8 432.2 760.7C436 757.6 440.6 754.5 443.9 753.2C447.2 752 449.5 752 453 752.9C456.5 753.8 462.6 756.3 466 758.7C469.4 761.2 471.5 765.5 474.1 768.5C476.7 771.5 479.4 775.9 482.2 777.6C485.1 779.3 487.3 778.7 492 778.9C496.7 779.1 506.8 779.8 511.5 778.9C516.2 778 517.9 775.6 521.2 773.4C524.6 771.2 529.2 767.1 532.6 765.2C536 763.4 539.8 762.1 542.4 762C545 761.9 546.5 762.5 548.9 764.6C551.2 766.7 555.7 773.3 557 775" stroke="#363636" stroke-width="1.45" fill="none" stroke-linejoin="round"/>
</g>
</svg>
<h1 class="title"><span style="left:377.0px;transform:scaleX(0.966)">VEAL</span> <span style="left:432.0px;transform:scaleX(0.962)">CHOP</span> <span style="left:494.0px;transform:scaleX(1.246);-webkit-text-stroke:0.15px #fff">with</span> <span style="left:541.9px;transform:scaleX(1.17);-webkit-text-stroke:0.15px #fff">Interventions</span> <span style="left:679.1px;transform:scaleX(1.17);-webkit-text-stroke:0.15px #fff">and</span> <span style="left:721.9px;transform:scaleX(1.128);-webkit-text-stroke:0.15px #fff">Outcomes</span></h1>
<div class="t b" style="left:62.60px;top:57.05px">Pattern</div>
<div class="t b" style="left:185.50px;top:57.05px">Example</div>
<div class="t b" style="left:576.80px;top:57.05px">Cause</div>
<div class="t b" style="left:696.50px;top:57.05px">Interventions</div>
<div class="t b" style="left:959.50px;top:57.05px">Desired Outcome</div>
<div class="t b" style="left:62.60px;top:87.75px"><b>V</b>ariable</div>
<div class="t b" style="left:62.60px;top:112.65px">Decelerations</div>
<div class="t b" style="left:62.60px;top:304.95px"><b>E</b>arly</div>
<div class="t b" style="left:62.60px;top:330.05px">Decelerations</div>
<div class="t b" style="left:62.60px;top:472.75px"><b>A</b>ccelerations</div>
<div class="t b" style="left:62.60px;top:640.75px"><b>L</b>ate</div>
<div class="t b" style="left:62.60px;top:664.75px">Decelerations</div>
<div class="t b" style="left:576.80px;top:87.75px"><b>C</b>ord</div>
<div class="t b" style="left:576.80px;top:112.65px">Compression</div>
<div class="t b" style="left:576.80px;top:304.95px"><b>H</b>ead</div>
<div class="t b" style="left:576.80px;top:330.05px">Compression</div>
<div class="t b" style="left:576.80px;top:472.75px">These are</div>
<div class="t b" style="left:576.80px;top:496.65px"><b>O</b>K!</div>
<div class="t b" style="left:576.80px;top:640.75px"><b>P</b>oor</div>
<div class="t b" style="left:576.80px;top:664.65px">Placental</div>
<div class="t b" style="left:576.80px;top:688.65px">Perfusion</div>
<div class="t s" style="left:695.90px;top:87.38px">Discontinue oxytocin</div>
<div class="t s" style="left:695.90px;top:111.58px">Change maternal position</div>
<div class="t s" style="left:695.90px;top:134.18px">Administer oxygen at 10 L/min by</div>
<div class="t s" style="left:695.90px;top:151.98px">nonrebreather face mask.</div>
<div class="t s" style="left:695.90px;top:175.68px">Notify provider</div>
<div class="t s" style="left:695.90px;top:198.18px">Vaginal or speculum examination to assess</div>
<div class="t s" style="left:695.90px;top:215.58px">for cord prolapse.</div>
<div class="t s" style="left:695.90px;top:239.68px">Amnioinfusion</div>
<div class="t s" style="left:695.90px;top:262.28px">Assist with birth if pattern cannot be</div>
<div class="t s" style="left:695.90px;top:280.08px">corrected.</div>
<div class="t s" style="left:695.90px;top:321.78px">Continue to monitor labor progress.</div>
<div class="t s" style="left:695.90px;top:489.78px">Continue to monitor labor progress.</div>
<div class="t s" style="left:695.90px;top:640.68px">Discontinue oxytocin</div>
<div class="t s" style="left:695.90px;top:663.88px">Assist woman to lateral (side-lying) position.</div>
<div class="t s" style="left:695.90px;top:687.28px">Administer oxygen</div>
<div class="t s" style="left:695.90px;top:710.68px">Correct maternal hypotension</div>
<div class="t s" style="left:695.90px;top:734.28px">Increase rate of intravenous solution.</div>
<div class="t s" style="left:695.90px;top:757.08px">Palpate uterus to assess for tachysystole.</div>
<div class="t s" style="left:695.90px;top:780.78px">Notify provider</div>
<div class="t s" style="left:695.90px;top:804.18px">Consider internal monitoring</div>
<div class="t s" style="left:695.90px;top:827.88px">Assist with birth if pattern cannot be</div>
<div class="t s" style="left:695.90px;top:845.48px">corrected.</div>
<div class="t s" style="left:958.60px;top:87.38px">Relieve Cord Compression</div>
<div class="t s" style="left:958.60px;top:304.88px">Maintain Oxygenation</div>
<div class="t s" style="left:958.60px;top:339.48px">Healthy fetus at delivery</div>
<div class="t s" style="left:958.60px;top:472.88px">Maintain Oxygenation</div>
<div class="t s" style="left:958.60px;top:507.48px">Healthy fetus at delivery</div>
<div class="t s" style="left:958.60px;top:640.68px">Maximize Oxygenation</div>
<div class="t s" style="left:958.60px;top:663.88px">Increased Perfusion to Placenta</div>
</body></html>
